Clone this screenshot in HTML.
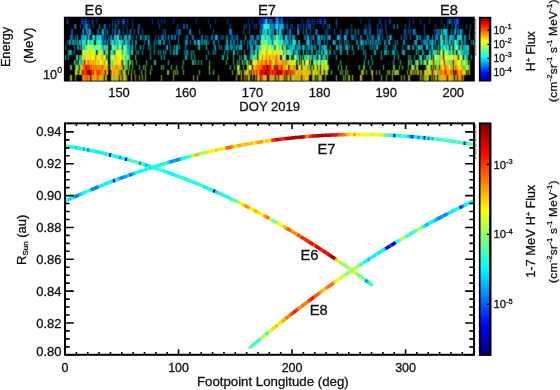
<!DOCTYPE html>
<html><head><meta charset="utf-8"><title>figure</title>
<style>html,body{margin:0;padding:0;background:#fff}svg{display:block}text{font-family:"Liberation Sans", sans-serif;fill:#111;stroke:#111;stroke-width:0.3px}</style>
</head><body><svg width="560" height="390" viewBox="0 0 560 390"><defs><linearGradient id="jet" x1="0" y1="0" x2="0" y2="1"><stop offset="0.0000" stop-color="#800000"/><stop offset="0.0625" stop-color="#bf0000"/><stop offset="0.1250" stop-color="#ff0000"/><stop offset="0.1875" stop-color="#ff4000"/><stop offset="0.2500" stop-color="#ff8000"/><stop offset="0.3125" stop-color="#ffbf00"/><stop offset="0.3750" stop-color="#ffff00"/><stop offset="0.4375" stop-color="#bfff40"/><stop offset="0.5000" stop-color="#80ff80"/><stop offset="0.5625" stop-color="#40ffbf"/><stop offset="0.6250" stop-color="#00ffff"/><stop offset="0.6875" stop-color="#00bfff"/><stop offset="0.7500" stop-color="#0080ff"/><stop offset="0.8125" stop-color="#0040ff"/><stop offset="0.8750" stop-color="#0000ff"/><stop offset="0.9375" stop-color="#0000bf"/><stop offset="1.0000" stop-color="#000080"/></linearGradient><linearGradient id="jet2" x1="0" y1="0" x2="0" y2="1"><stop offset="0.0000" stop-color="#a80000"/><stop offset="0.0625" stop-color="#e40000"/><stop offset="0.1250" stop-color="#ff2000"/><stop offset="0.1875" stop-color="#ff5b00"/><stop offset="0.2500" stop-color="#ff9600"/><stop offset="0.3125" stop-color="#ffd200"/><stop offset="0.3750" stop-color="#f1ff0e"/><stop offset="0.4375" stop-color="#b6ff49"/><stop offset="0.5000" stop-color="#7aff85"/><stop offset="0.5625" stop-color="#3fffc0"/><stop offset="0.6250" stop-color="#04fffb"/><stop offset="0.6875" stop-color="#00c8ff"/><stop offset="0.7500" stop-color="#008cff"/><stop offset="0.8125" stop-color="#0051ff"/><stop offset="0.8750" stop-color="#0016ff"/><stop offset="0.9375" stop-color="#0000d9"/><stop offset="1.0000" stop-color="#00009e"/></linearGradient></defs><rect width="560" height="390" fill="#fff"/>
<rect x="63.9" y="16.7" width="410.9" height="64.8" fill="#000"/>
<filter id="bl" x="60" y="12" width="420" height="74" filterUnits="userSpaceOnUse" color-interpolation-filters="sRGB"><feConvolveMatrix order="3 3" kernelMatrix="0.0200 0.0600 0.0200 0.1600 0.4800 0.1600 0.0200 0.0600 0.0200" divisor="1" edgeMode="none"/></filter>
<clipPath id="sc"><rect x="65.0" y="17.2" width="409.0" height="63.599999999999994"/></clipPath>
<g clip-path="url(#sc)"><g filter="url(#bl)">
<rect x="85" y="17" width="1" height="2" fill="#0000a6"/>
<rect x="97" y="17" width="2" height="2" fill="#0000a6"/>
<rect x="152" y="17" width="1" height="2" fill="#0000a6"/>
<rect x="174" y="17" width="1" height="2" fill="#0000a6"/>
<rect x="197" y="17" width="1" height="2" fill="#0000a6"/>
<rect x="210" y="17" width="1" height="2" fill="#0000a6"/>
<rect x="261" y="17" width="3" height="2" fill="#0024d9"/>
<rect x="264" y="17" width="1" height="2" fill="#0000a6"/>
<rect x="266" y="17" width="1" height="2" fill="#0024d9"/>
<rect x="268" y="17" width="1" height="2" fill="#0024d9"/>
<rect x="269" y="17" width="1" height="2" fill="#0000a6"/>
<rect x="271" y="17" width="1" height="2" fill="#0000a6"/>
<rect x="275" y="17" width="1" height="2" fill="#004ced"/>
<rect x="276" y="17" width="1" height="2" fill="#0095ff"/>
<rect x="277" y="17" width="1" height="2" fill="#0024d9"/>
<rect x="278" y="17" width="1" height="2" fill="#006eff"/>
<rect x="280" y="17" width="1" height="2" fill="#0000a6"/>
<rect x="281" y="17" width="1" height="2" fill="#004ced"/>
<rect x="282" y="17" width="2" height="2" fill="#0000a6"/>
<rect x="289" y="17" width="3" height="2" fill="#0000a6"/>
<rect x="293" y="17" width="2" height="2" fill="#0000a6"/>
<rect x="301" y="17" width="1" height="2" fill="#0000a6"/>
<rect x="308" y="17" width="1" height="2" fill="#0000a6"/>
<rect x="321" y="17" width="1" height="2" fill="#0000a6"/>
<rect x="324" y="17" width="1" height="2" fill="#0000a6"/>
<rect x="328" y="17" width="1" height="2" fill="#0000a6"/>
<rect x="366" y="17" width="1" height="2" fill="#0000a6"/>
<rect x="382" y="17" width="1" height="2" fill="#0000a6"/>
<rect x="386" y="17" width="1" height="2" fill="#0000a6"/>
<rect x="406" y="17" width="2" height="2" fill="#0000a6"/>
<rect x="413" y="17" width="1" height="2" fill="#0000a6"/>
<rect x="447" y="17" width="1" height="2" fill="#0000a6"/>
<rect x="453" y="17" width="1" height="2" fill="#0000a6"/>
<rect x="456" y="17" width="2" height="2" fill="#0000a6"/>
<rect x="461" y="17" width="1" height="2" fill="#0000a6"/>
<rect x="467" y="17" width="1" height="2" fill="#0000a6"/>
<rect x="472" y="17" width="1" height="2" fill="#0000a6"/>
<rect x="67" y="19" width="1" height="5" fill="#007ad9"/>
<rect x="81" y="19" width="3" height="5" fill="#0037b8"/>
<rect x="85" y="19" width="1" height="5" fill="#007ad9"/>
<rect x="86" y="19" width="1" height="5" fill="#0037b8"/>
<rect x="88" y="19" width="1" height="5" fill="#0037b8"/>
<rect x="92" y="19" width="1" height="5" fill="#007ad9"/>
<rect x="96" y="19" width="1" height="5" fill="#0037b8"/>
<rect x="112" y="19" width="1" height="5" fill="#0037b8"/>
<rect x="115" y="19" width="1" height="5" fill="#0037b8"/>
<rect x="118" y="19" width="1" height="5" fill="#007ad9"/>
<rect x="122" y="19" width="1" height="5" fill="#0037b8"/>
<rect x="123" y="19" width="1" height="5" fill="#007ad9"/>
<rect x="124" y="19" width="1" height="5" fill="#0037b8"/>
<rect x="127" y="19" width="1" height="5" fill="#0037b8"/>
<rect x="132" y="19" width="1" height="5" fill="#0037b8"/>
<rect x="152" y="19" width="1" height="5" fill="#0037b8"/>
<rect x="158" y="19" width="1" height="5" fill="#0037b8"/>
<rect x="161" y="19" width="1" height="5" fill="#0037b8"/>
<rect x="164" y="19" width="1" height="5" fill="#0037b8"/>
<rect x="173" y="19" width="1" height="5" fill="#0037b8"/>
<rect x="196" y="19" width="1" height="5" fill="#0037b8"/>
<rect x="208" y="19" width="1" height="5" fill="#0037b8"/>
<rect x="215" y="19" width="1" height="5" fill="#0037b8"/>
<rect x="227" y="19" width="1" height="5" fill="#0037b8"/>
<rect x="248" y="19" width="1" height="5" fill="#0037b8"/>
<rect x="252" y="19" width="1" height="5" fill="#0037b8"/>
<rect x="259" y="19" width="2" height="5" fill="#0037b8"/>
<rect x="262" y="19" width="3" height="5" fill="#0037b8"/>
<rect x="265" y="19" width="1" height="5" fill="#00abed"/>
<rect x="266" y="19" width="1" height="5" fill="#40ffbf"/>
<rect x="267" y="19" width="1" height="5" fill="#0037b8"/>
<rect x="269" y="19" width="1" height="5" fill="#007ad9"/>
<rect x="270" y="19" width="1" height="5" fill="#0037b8"/>
<rect x="271" y="19" width="1" height="5" fill="#007ad9"/>
<rect x="272" y="19" width="1" height="5" fill="#0037b8"/>
<rect x="275" y="19" width="1" height="5" fill="#0037b8"/>
<rect x="276" y="19" width="1" height="5" fill="#00abed"/>
<rect x="277" y="19" width="1" height="5" fill="#007ad9"/>
<rect x="278" y="19" width="1" height="5" fill="#00abed"/>
<rect x="280" y="19" width="1" height="5" fill="#0037b8"/>
<rect x="281" y="19" width="1" height="5" fill="#00abed"/>
<rect x="282" y="19" width="1" height="5" fill="#0037b8"/>
<rect x="287" y="19" width="1" height="5" fill="#0037b8"/>
<rect x="302" y="19" width="1" height="5" fill="#0037b8"/>
<rect x="307" y="19" width="2" height="5" fill="#0037b8"/>
<rect x="310" y="19" width="1" height="5" fill="#0037b8"/>
<rect x="312" y="19" width="1" height="5" fill="#0037b8"/>
<rect x="314" y="19" width="1" height="5" fill="#0037b8"/>
<rect x="317" y="19" width="1" height="5" fill="#0037b8"/>
<rect x="319" y="19" width="3" height="5" fill="#0037b8"/>
<rect x="324" y="19" width="1" height="5" fill="#007ad9"/>
<rect x="325" y="19" width="1" height="5" fill="#0037b8"/>
<rect x="336" y="19" width="1" height="5" fill="#007ad9"/>
<rect x="360" y="19" width="1" height="5" fill="#0037b8"/>
<rect x="369" y="19" width="1" height="5" fill="#0037b8"/>
<rect x="379" y="19" width="2" height="5" fill="#0037b8"/>
<rect x="385" y="19" width="1" height="5" fill="#0037b8"/>
<rect x="389" y="19" width="2" height="5" fill="#0037b8"/>
<rect x="409" y="19" width="1" height="5" fill="#0037b8"/>
<rect x="413" y="19" width="1" height="5" fill="#0037b8"/>
<rect x="420" y="19" width="1" height="5" fill="#0037b8"/>
<rect x="429" y="19" width="1" height="5" fill="#0037b8"/>
<rect x="441" y="19" width="1" height="5" fill="#0037b8"/>
<rect x="447" y="19" width="1" height="5" fill="#0037b8"/>
<rect x="449" y="19" width="1" height="5" fill="#00d4ff"/>
<rect x="451" y="19" width="1" height="5" fill="#007ad9"/>
<rect x="454" y="19" width="3" height="5" fill="#0037b8"/>
<rect x="457" y="19" width="1" height="5" fill="#007ad9"/>
<rect x="458" y="19" width="1" height="5" fill="#0037b8"/>
<rect x="74" y="24" width="1" height="5" fill="#0051b8"/>
<rect x="75" y="24" width="1" height="5" fill="#0099d9"/>
<rect x="80" y="24" width="1" height="5" fill="#0051b8"/>
<rect x="83" y="24" width="1" height="5" fill="#0051b8"/>
<rect x="85" y="24" width="1" height="5" fill="#00cced"/>
<rect x="86" y="24" width="1" height="5" fill="#0051b8"/>
<rect x="87" y="24" width="1" height="5" fill="#0099d9"/>
<rect x="89" y="24" width="1" height="5" fill="#0051b8"/>
<rect x="93" y="24" width="1" height="5" fill="#0051b8"/>
<rect x="99" y="24" width="1" height="5" fill="#0099d9"/>
<rect x="104" y="24" width="1" height="5" fill="#0099d9"/>
<rect x="105" y="24" width="1" height="5" fill="#0051b8"/>
<rect x="109" y="24" width="1" height="5" fill="#0051b8"/>
<rect x="112" y="24" width="1" height="5" fill="#0051b8"/>
<rect x="115" y="24" width="1" height="5" fill="#0099d9"/>
<rect x="117" y="24" width="1" height="5" fill="#0051b8"/>
<rect x="123" y="24" width="1" height="5" fill="#0051b8"/>
<rect x="126" y="24" width="1" height="5" fill="#0051b8"/>
<rect x="132" y="24" width="1" height="5" fill="#0051b8"/>
<rect x="138" y="24" width="2" height="5" fill="#0051b8"/>
<rect x="159" y="24" width="1" height="5" fill="#0051b8"/>
<rect x="177" y="24" width="1" height="5" fill="#0051b8"/>
<rect x="183" y="24" width="2" height="5" fill="#0051b8"/>
<rect x="186" y="24" width="2" height="5" fill="#0051b8"/>
<rect x="210" y="24" width="1" height="5" fill="#0051b8"/>
<rect x="230" y="24" width="1" height="5" fill="#0051b8"/>
<rect x="244" y="24" width="1" height="5" fill="#0051b8"/>
<rect x="246" y="24" width="1" height="5" fill="#0051b8"/>
<rect x="249" y="24" width="1" height="5" fill="#0051b8"/>
<rect x="254" y="24" width="1" height="5" fill="#0051b8"/>
<rect x="256" y="24" width="1" height="5" fill="#0051b8"/>
<rect x="260" y="24" width="3" height="5" fill="#0051b8"/>
<rect x="263" y="24" width="1" height="5" fill="#00cced"/>
<rect x="264" y="24" width="2" height="5" fill="#0efff1"/>
<rect x="266" y="24" width="1" height="5" fill="#00f7ff"/>
<rect x="267" y="24" width="1" height="5" fill="#0efff1"/>
<rect x="268" y="24" width="1" height="5" fill="#00f7ff"/>
<rect x="269" y="24" width="1" height="5" fill="#2fffd0"/>
<rect x="271" y="24" width="1" height="5" fill="#00cced"/>
<rect x="272" y="24" width="1" height="5" fill="#0099d9"/>
<rect x="273" y="24" width="2" height="5" fill="#0051b8"/>
<rect x="275" y="24" width="2" height="5" fill="#00cced"/>
<rect x="277" y="24" width="1" height="5" fill="#2fffd0"/>
<rect x="278" y="24" width="1" height="5" fill="#0051b8"/>
<rect x="279" y="24" width="1" height="5" fill="#0099d9"/>
<rect x="280" y="24" width="1" height="5" fill="#00cced"/>
<rect x="281" y="24" width="1" height="5" fill="#0099d9"/>
<rect x="282" y="24" width="1" height="5" fill="#00cced"/>
<rect x="283" y="24" width="1" height="5" fill="#0099d9"/>
<rect x="286" y="24" width="2" height="5" fill="#0051b8"/>
<rect x="290" y="24" width="1" height="5" fill="#0051b8"/>
<rect x="292" y="24" width="1" height="5" fill="#0051b8"/>
<rect x="297" y="24" width="2" height="5" fill="#0051b8"/>
<rect x="300" y="24" width="1" height="5" fill="#0051b8"/>
<rect x="303" y="24" width="1" height="5" fill="#0051b8"/>
<rect x="306" y="24" width="1" height="5" fill="#0051b8"/>
<rect x="308" y="24" width="3" height="5" fill="#0051b8"/>
<rect x="313" y="24" width="1" height="5" fill="#0051b8"/>
<rect x="323" y="24" width="1" height="5" fill="#0051b8"/>
<rect x="327" y="24" width="1" height="5" fill="#0051b8"/>
<rect x="329" y="24" width="1" height="5" fill="#0099d9"/>
<rect x="336" y="24" width="1" height="5" fill="#0051b8"/>
<rect x="351" y="24" width="1" height="5" fill="#0051b8"/>
<rect x="365" y="24" width="1" height="5" fill="#0051b8"/>
<rect x="368" y="24" width="1" height="5" fill="#0051b8"/>
<rect x="370" y="24" width="1" height="5" fill="#0051b8"/>
<rect x="377" y="24" width="1" height="5" fill="#0051b8"/>
<rect x="381" y="24" width="1" height="5" fill="#0051b8"/>
<rect x="385" y="24" width="1" height="5" fill="#0051b8"/>
<rect x="393" y="24" width="2" height="5" fill="#0051b8"/>
<rect x="397" y="24" width="1" height="5" fill="#0099d9"/>
<rect x="405" y="24" width="1" height="5" fill="#0051b8"/>
<rect x="409" y="24" width="1" height="5" fill="#0051b8"/>
<rect x="424" y="24" width="1" height="5" fill="#0051b8"/>
<rect x="435" y="24" width="1" height="5" fill="#0051b8"/>
<rect x="444" y="24" width="1" height="5" fill="#0051b8"/>
<rect x="447" y="24" width="1" height="5" fill="#0051b8"/>
<rect x="452" y="24" width="1" height="5" fill="#0051b8"/>
<rect x="455" y="24" width="1" height="5" fill="#0099d9"/>
<rect x="456" y="24" width="1" height="5" fill="#0051b8"/>
<rect x="458" y="24" width="1" height="5" fill="#0051b8"/>
<rect x="466" y="24" width="1" height="5" fill="#0051b8"/>
<rect x="470" y="24" width="1" height="5" fill="#0051b8"/>
<rect x="71" y="29" width="2" height="6" fill="#0063b8"/>
<rect x="82" y="29" width="1" height="6" fill="#0063b8"/>
<rect x="83" y="29" width="1" height="6" fill="#00aed9"/>
<rect x="86" y="29" width="1" height="6" fill="#00aed9"/>
<rect x="87" y="29" width="2" height="6" fill="#0063b8"/>
<rect x="89" y="29" width="2" height="6" fill="#00aed9"/>
<rect x="97" y="29" width="2" height="6" fill="#0063b8"/>
<rect x="102" y="29" width="1" height="6" fill="#00e4ed"/>
<rect x="103" y="29" width="1" height="6" fill="#00aed9"/>
<rect x="105" y="29" width="1" height="6" fill="#0063b8"/>
<rect x="107" y="29" width="1" height="6" fill="#00aed9"/>
<rect x="112" y="29" width="1" height="6" fill="#0063b8"/>
<rect x="114" y="29" width="2" height="6" fill="#0063b8"/>
<rect x="118" y="29" width="1" height="6" fill="#0063b8"/>
<rect x="119" y="29" width="1" height="6" fill="#00aed9"/>
<rect x="123" y="29" width="1" height="6" fill="#0063b8"/>
<rect x="127" y="29" width="1" height="6" fill="#0063b8"/>
<rect x="130" y="29" width="1" height="6" fill="#00aed9"/>
<rect x="134" y="29" width="1" height="6" fill="#0063b8"/>
<rect x="138" y="29" width="1" height="6" fill="#00aed9"/>
<rect x="142" y="29" width="1" height="6" fill="#0063b8"/>
<rect x="163" y="29" width="1" height="6" fill="#0063b8"/>
<rect x="165" y="29" width="1" height="6" fill="#0063b8"/>
<rect x="176" y="29" width="1" height="6" fill="#0063b8"/>
<rect x="178" y="29" width="3" height="6" fill="#0063b8"/>
<rect x="189" y="29" width="1" height="6" fill="#0063b8"/>
<rect x="190" y="29" width="1" height="6" fill="#00aed9"/>
<rect x="199" y="29" width="1" height="6" fill="#0063b8"/>
<rect x="213" y="29" width="1" height="6" fill="#0063b8"/>
<rect x="229" y="29" width="1" height="6" fill="#0063b8"/>
<rect x="230" y="29" width="1" height="6" fill="#00aed9"/>
<rect x="231" y="29" width="1" height="6" fill="#0063b8"/>
<rect x="243" y="29" width="1" height="6" fill="#0063b8"/>
<rect x="249" y="29" width="1" height="6" fill="#0063b8"/>
<rect x="260" y="29" width="1" height="6" fill="#00aed9"/>
<rect x="262" y="29" width="1" height="6" fill="#00e4ed"/>
<rect x="263" y="29" width="2" height="6" fill="#00aed9"/>
<rect x="265" y="29" width="1" height="6" fill="#00e4ed"/>
<rect x="266" y="29" width="1" height="6" fill="#61ff9e"/>
<rect x="268" y="29" width="1" height="6" fill="#0063b8"/>
<rect x="269" y="29" width="1" height="6" fill="#28ffd7"/>
<rect x="270" y="29" width="1" height="6" fill="#0063b8"/>
<rect x="271" y="29" width="1" height="6" fill="#00aed9"/>
<rect x="272" y="29" width="1" height="6" fill="#0063b8"/>
<rect x="273" y="29" width="1" height="6" fill="#00aed9"/>
<rect x="276" y="29" width="1" height="6" fill="#0063b8"/>
<rect x="277" y="29" width="1" height="6" fill="#61ff9e"/>
<rect x="279" y="29" width="1" height="6" fill="#12ffed"/>
<rect x="280" y="29" width="2" height="6" fill="#00aed9"/>
<rect x="283" y="29" width="1" height="6" fill="#0063b8"/>
<rect x="287" y="29" width="1" height="6" fill="#0063b8"/>
<rect x="289" y="29" width="1" height="6" fill="#0063b8"/>
<rect x="290" y="29" width="1" height="6" fill="#00aed9"/>
<rect x="297" y="29" width="1" height="6" fill="#0063b8"/>
<rect x="298" y="29" width="1" height="6" fill="#00e4ed"/>
<rect x="303" y="29" width="1" height="6" fill="#0063b8"/>
<rect x="306" y="29" width="1" height="6" fill="#00aed9"/>
<rect x="310" y="29" width="1" height="6" fill="#0063b8"/>
<rect x="315" y="29" width="3" height="6" fill="#0063b8"/>
<rect x="325" y="29" width="1" height="6" fill="#0063b8"/>
<rect x="327" y="29" width="1" height="6" fill="#0063b8"/>
<rect x="334" y="29" width="1" height="6" fill="#0063b8"/>
<rect x="340" y="29" width="1" height="6" fill="#0063b8"/>
<rect x="345" y="29" width="1" height="6" fill="#0063b8"/>
<rect x="347" y="29" width="1" height="6" fill="#00aed9"/>
<rect x="351" y="29" width="1" height="6" fill="#0063b8"/>
<rect x="355" y="29" width="1" height="6" fill="#00aed9"/>
<rect x="358" y="29" width="1" height="6" fill="#00aed9"/>
<rect x="364" y="29" width="3" height="6" fill="#0063b8"/>
<rect x="369" y="29" width="2" height="6" fill="#0063b8"/>
<rect x="377" y="29" width="1" height="6" fill="#0063b8"/>
<rect x="379" y="29" width="2" height="6" fill="#0063b8"/>
<rect x="382" y="29" width="1" height="6" fill="#0063b8"/>
<rect x="386" y="29" width="1" height="6" fill="#0063b8"/>
<rect x="404" y="29" width="2" height="6" fill="#0063b8"/>
<rect x="408" y="29" width="1" height="6" fill="#0063b8"/>
<rect x="410" y="29" width="1" height="6" fill="#0063b8"/>
<rect x="413" y="29" width="1" height="6" fill="#00aed9"/>
<rect x="414" y="29" width="2" height="6" fill="#0063b8"/>
<rect x="424" y="29" width="1" height="6" fill="#0063b8"/>
<rect x="434" y="29" width="1" height="6" fill="#0063b8"/>
<rect x="436" y="29" width="4" height="6" fill="#0063b8"/>
<rect x="441" y="29" width="1" height="6" fill="#39ffc6"/>
<rect x="443" y="29" width="1" height="6" fill="#00e4ed"/>
<rect x="444" y="29" width="1" height="6" fill="#00aed9"/>
<rect x="445" y="29" width="1" height="6" fill="#00e4ed"/>
<rect x="446" y="29" width="1" height="6" fill="#00aed9"/>
<rect x="447" y="29" width="1" height="6" fill="#0063b8"/>
<rect x="451" y="29" width="1" height="6" fill="#00aed9"/>
<rect x="454" y="29" width="2" height="6" fill="#00aed9"/>
<rect x="457" y="29" width="2" height="6" fill="#0063b8"/>
<rect x="460" y="29" width="1" height="6" fill="#00e4ed"/>
<rect x="461" y="29" width="2" height="6" fill="#0063b8"/>
<rect x="469" y="29" width="1" height="6" fill="#0063b8"/>
<rect x="70" y="35" width="3" height="5" fill="#0075b8"/>
<rect x="75" y="35" width="1" height="5" fill="#0075b8"/>
<rect x="77" y="35" width="1" height="5" fill="#00c4d9"/>
<rect x="81" y="35" width="1" height="5" fill="#00c4d9"/>
<rect x="82" y="35" width="1" height="5" fill="#0075b8"/>
<rect x="83" y="35" width="1" height="5" fill="#00c4d9"/>
<rect x="84" y="35" width="1" height="5" fill="#0075b8"/>
<rect x="85" y="35" width="1" height="5" fill="#2bffd4"/>
<rect x="86" y="35" width="1" height="5" fill="#0075b8"/>
<rect x="88" y="35" width="1" height="5" fill="#2bffd4"/>
<rect x="89" y="35" width="1" height="5" fill="#0075b8"/>
<rect x="92" y="35" width="2" height="5" fill="#00c4d9"/>
<rect x="94" y="35" width="1" height="5" fill="#2bffd4"/>
<rect x="96" y="35" width="1" height="5" fill="#00c4d9"/>
<rect x="97" y="35" width="1" height="5" fill="#2bffd4"/>
<rect x="98" y="35" width="1" height="5" fill="#0075b8"/>
<rect x="99" y="35" width="2" height="5" fill="#0eeddf"/>
<rect x="101" y="35" width="3" height="5" fill="#0075b8"/>
<rect x="105" y="35" width="1" height="5" fill="#0075b8"/>
<rect x="108" y="35" width="1" height="5" fill="#0075b8"/>
<rect x="110" y="35" width="1" height="5" fill="#0075b8"/>
<rect x="111" y="35" width="1" height="5" fill="#00c4d9"/>
<rect x="114" y="35" width="1" height="5" fill="#0eeddf"/>
<rect x="115" y="35" width="1" height="5" fill="#00c4d9"/>
<rect x="116" y="35" width="1" height="5" fill="#0075b8"/>
<rect x="117" y="35" width="1" height="5" fill="#41ffbe"/>
<rect x="118" y="35" width="1" height="5" fill="#2bffd4"/>
<rect x="120" y="35" width="2" height="5" fill="#0075b8"/>
<rect x="124" y="35" width="1" height="5" fill="#0eeddf"/>
<rect x="125" y="35" width="1" height="5" fill="#0075b8"/>
<rect x="126" y="35" width="1" height="5" fill="#0eeddf"/>
<rect x="128" y="35" width="1" height="5" fill="#0075b8"/>
<rect x="129" y="35" width="1" height="5" fill="#2bffd4"/>
<rect x="130" y="35" width="1" height="5" fill="#0075b8"/>
<rect x="132" y="35" width="1" height="5" fill="#0075b8"/>
<rect x="136" y="35" width="1" height="5" fill="#0075b8"/>
<rect x="140" y="35" width="1" height="5" fill="#00c4d9"/>
<rect x="141" y="35" width="1" height="5" fill="#0075b8"/>
<rect x="143" y="35" width="1" height="5" fill="#0075b8"/>
<rect x="145" y="35" width="1" height="5" fill="#00c4d9"/>
<rect x="146" y="35" width="1" height="5" fill="#0075b8"/>
<rect x="148" y="35" width="1" height="5" fill="#00c4d9"/>
<rect x="155" y="35" width="1" height="5" fill="#0075b8"/>
<rect x="158" y="35" width="1" height="5" fill="#0075b8"/>
<rect x="161" y="35" width="3" height="5" fill="#0075b8"/>
<rect x="165" y="35" width="1" height="5" fill="#0075b8"/>
<rect x="168" y="35" width="1" height="5" fill="#00c4d9"/>
<rect x="171" y="35" width="2" height="5" fill="#0075b8"/>
<rect x="174" y="35" width="2" height="5" fill="#0075b8"/>
<rect x="178" y="35" width="1" height="5" fill="#0075b8"/>
<rect x="186" y="35" width="2" height="5" fill="#0075b8"/>
<rect x="192" y="35" width="2" height="5" fill="#0075b8"/>
<rect x="201" y="35" width="2" height="5" fill="#0075b8"/>
<rect x="205" y="35" width="1" height="5" fill="#0075b8"/>
<rect x="207" y="35" width="1" height="5" fill="#0075b8"/>
<rect x="211" y="35" width="2" height="5" fill="#0075b8"/>
<rect x="215" y="35" width="2" height="5" fill="#00c4d9"/>
<rect x="217" y="35" width="1" height="5" fill="#0075b8"/>
<rect x="221" y="35" width="1" height="5" fill="#0075b8"/>
<rect x="223" y="35" width="1" height="5" fill="#0075b8"/>
<rect x="226" y="35" width="2" height="5" fill="#0075b8"/>
<rect x="231" y="35" width="2" height="5" fill="#0075b8"/>
<rect x="234" y="35" width="1" height="5" fill="#0075b8"/>
<rect x="236" y="35" width="2" height="5" fill="#0075b8"/>
<rect x="245" y="35" width="1" height="5" fill="#00c4d9"/>
<rect x="250" y="35" width="4" height="5" fill="#0075b8"/>
<rect x="256" y="35" width="4" height="5" fill="#0075b8"/>
<rect x="261" y="35" width="1" height="5" fill="#9eff61"/>
<rect x="262" y="35" width="1" height="5" fill="#0eeddf"/>
<rect x="263" y="35" width="1" height="5" fill="#41ffbe"/>
<rect x="264" y="35" width="1" height="5" fill="#62ff9d"/>
<rect x="265" y="35" width="1" height="5" fill="#0075b8"/>
<rect x="266" y="35" width="1" height="5" fill="#53ffac"/>
<rect x="267" y="35" width="2" height="5" fill="#0eeddf"/>
<rect x="269" y="35" width="1" height="5" fill="#00c4d9"/>
<rect x="270" y="35" width="1" height="5" fill="#41ffbe"/>
<rect x="272" y="35" width="1" height="5" fill="#00c4d9"/>
<rect x="273" y="35" width="1" height="5" fill="#0075b8"/>
<rect x="274" y="35" width="1" height="5" fill="#6fff90"/>
<rect x="275" y="35" width="1" height="5" fill="#0075b8"/>
<rect x="276" y="35" width="1" height="5" fill="#6fff90"/>
<rect x="277" y="35" width="1" height="5" fill="#96ff69"/>
<rect x="278" y="35" width="1" height="5" fill="#00c4d9"/>
<rect x="279" y="35" width="1" height="5" fill="#0eeddf"/>
<rect x="280" y="35" width="1" height="5" fill="#0075b8"/>
<rect x="281" y="35" width="1" height="5" fill="#41ffbe"/>
<rect x="282" y="35" width="1" height="5" fill="#0075b8"/>
<rect x="285" y="35" width="1" height="5" fill="#2bffd4"/>
<rect x="286" y="35" width="1" height="5" fill="#00c4d9"/>
<rect x="287" y="35" width="1" height="5" fill="#0075b8"/>
<rect x="289" y="35" width="1" height="5" fill="#00c4d9"/>
<rect x="290" y="35" width="1" height="5" fill="#0075b8"/>
<rect x="292" y="35" width="1" height="5" fill="#00c4d9"/>
<rect x="293" y="35" width="1" height="5" fill="#0075b8"/>
<rect x="294" y="35" width="1" height="5" fill="#00c4d9"/>
<rect x="304" y="35" width="2" height="5" fill="#0075b8"/>
<rect x="307" y="35" width="2" height="5" fill="#00c4d9"/>
<rect x="311" y="35" width="1" height="5" fill="#0075b8"/>
<rect x="313" y="35" width="1" height="5" fill="#2bffd4"/>
<rect x="317" y="35" width="1" height="5" fill="#0075b8"/>
<rect x="318" y="35" width="2" height="5" fill="#00c4d9"/>
<rect x="321" y="35" width="1" height="5" fill="#00c4d9"/>
<rect x="322" y="35" width="1" height="5" fill="#0075b8"/>
<rect x="324" y="35" width="1" height="5" fill="#00c4d9"/>
<rect x="327" y="35" width="2" height="5" fill="#0075b8"/>
<rect x="329" y="35" width="1" height="5" fill="#00c4d9"/>
<rect x="330" y="35" width="1" height="5" fill="#0075b8"/>
<rect x="337" y="35" width="2" height="5" fill="#00c4d9"/>
<rect x="339" y="35" width="2" height="5" fill="#0075b8"/>
<rect x="344" y="35" width="2" height="5" fill="#00c4d9"/>
<rect x="346" y="35" width="1" height="5" fill="#0075b8"/>
<rect x="351" y="35" width="3" height="5" fill="#0075b8"/>
<rect x="355" y="35" width="1" height="5" fill="#0075b8"/>
<rect x="360" y="35" width="2" height="5" fill="#0075b8"/>
<rect x="367" y="35" width="1" height="5" fill="#00c4d9"/>
<rect x="369" y="35" width="1" height="5" fill="#0075b8"/>
<rect x="371" y="35" width="3" height="5" fill="#0075b8"/>
<rect x="377" y="35" width="2" height="5" fill="#0075b8"/>
<rect x="379" y="35" width="1" height="5" fill="#00c4d9"/>
<rect x="382" y="35" width="1" height="5" fill="#0075b8"/>
<rect x="387" y="35" width="1" height="5" fill="#0075b8"/>
<rect x="389" y="35" width="1" height="5" fill="#0075b8"/>
<rect x="390" y="35" width="1" height="5" fill="#00c4d9"/>
<rect x="391" y="35" width="1" height="5" fill="#0075b8"/>
<rect x="401" y="35" width="1" height="5" fill="#0075b8"/>
<rect x="404" y="35" width="1" height="5" fill="#0075b8"/>
<rect x="406" y="35" width="1" height="5" fill="#0075b8"/>
<rect x="410" y="35" width="1" height="5" fill="#0075b8"/>
<rect x="416" y="35" width="1" height="5" fill="#0075b8"/>
<rect x="417" y="35" width="1" height="5" fill="#0eeddf"/>
<rect x="419" y="35" width="2" height="5" fill="#0075b8"/>
<rect x="424" y="35" width="1" height="5" fill="#0075b8"/>
<rect x="426" y="35" width="2" height="5" fill="#0075b8"/>
<rect x="428" y="35" width="1" height="5" fill="#00c4d9"/>
<rect x="432" y="35" width="1" height="5" fill="#00c4d9"/>
<rect x="435" y="35" width="2" height="5" fill="#0075b8"/>
<rect x="437" y="35" width="1" height="5" fill="#00c4d9"/>
<rect x="440" y="35" width="1" height="5" fill="#0eeddf"/>
<rect x="441" y="35" width="1" height="5" fill="#62ff9d"/>
<rect x="442" y="35" width="2" height="5" fill="#0075b8"/>
<rect x="445" y="35" width="1" height="5" fill="#6fff90"/>
<rect x="446" y="35" width="1" height="5" fill="#0075b8"/>
<rect x="447" y="35" width="1" height="5" fill="#00c4d9"/>
<rect x="449" y="35" width="1" height="5" fill="#0075b8"/>
<rect x="450" y="35" width="1" height="5" fill="#2bffd4"/>
<rect x="451" y="35" width="1" height="5" fill="#0075b8"/>
<rect x="452" y="35" width="1" height="5" fill="#00c4d9"/>
<rect x="453" y="35" width="2" height="5" fill="#0075b8"/>
<rect x="457" y="35" width="2" height="5" fill="#0eeddf"/>
<rect x="459" y="35" width="2" height="5" fill="#00c4d9"/>
<rect x="461" y="35" width="1" height="5" fill="#41ffbe"/>
<rect x="464" y="35" width="1" height="5" fill="#00c4d9"/>
<rect x="465" y="35" width="1" height="5" fill="#0075b8"/>
<rect x="469" y="35" width="1" height="5" fill="#00c4d9"/>
<rect x="67" y="40" width="1" height="5" fill="#0088b8"/>
<rect x="69" y="40" width="1" height="5" fill="#01d9d8"/>
<rect x="70" y="40" width="1" height="5" fill="#0088b8"/>
<rect x="72" y="40" width="1" height="5" fill="#0088b8"/>
<rect x="73" y="40" width="1" height="5" fill="#01d9d8"/>
<rect x="75" y="40" width="1" height="5" fill="#01d9d8"/>
<rect x="77" y="40" width="1" height="5" fill="#26edc7"/>
<rect x="79" y="40" width="1" height="5" fill="#26edc7"/>
<rect x="80" y="40" width="2" height="5" fill="#0088b8"/>
<rect x="82" y="40" width="1" height="5" fill="#01d9d8"/>
<rect x="83" y="40" width="1" height="5" fill="#26edc7"/>
<rect x="84" y="40" width="1" height="5" fill="#01d9d8"/>
<rect x="85" y="40" width="1" height="5" fill="#5bffa4"/>
<rect x="87" y="40" width="1" height="5" fill="#45ffba"/>
<rect x="88" y="40" width="1" height="5" fill="#6cff93"/>
<rect x="89" y="40" width="2" height="5" fill="#01d9d8"/>
<rect x="91" y="40" width="1" height="5" fill="#26edc7"/>
<rect x="92" y="40" width="1" height="5" fill="#45ffba"/>
<rect x="93" y="40" width="1" height="5" fill="#26edc7"/>
<rect x="96" y="40" width="1" height="5" fill="#6cff93"/>
<rect x="97" y="40" width="1" height="5" fill="#26edc7"/>
<rect x="98" y="40" width="1" height="5" fill="#01d9d8"/>
<rect x="99" y="40" width="1" height="5" fill="#88ff77"/>
<rect x="100" y="40" width="1" height="5" fill="#26edc7"/>
<rect x="101" y="40" width="1" height="5" fill="#01d9d8"/>
<rect x="102" y="40" width="1" height="5" fill="#0088b8"/>
<rect x="104" y="40" width="2" height="5" fill="#0088b8"/>
<rect x="107" y="40" width="1" height="5" fill="#01d9d8"/>
<rect x="110" y="40" width="1" height="5" fill="#0088b8"/>
<rect x="111" y="40" width="2" height="5" fill="#01d9d8"/>
<rect x="113" y="40" width="1" height="5" fill="#26edc7"/>
<rect x="114" y="40" width="2" height="5" fill="#0088b8"/>
<rect x="116" y="40" width="1" height="5" fill="#6cff93"/>
<rect x="117" y="40" width="1" height="5" fill="#0088b8"/>
<rect x="118" y="40" width="1" height="5" fill="#26edc7"/>
<rect x="119" y="40" width="1" height="5" fill="#5bffa4"/>
<rect x="120" y="40" width="1" height="5" fill="#01d9d8"/>
<rect x="121" y="40" width="1" height="5" fill="#26edc7"/>
<rect x="122" y="40" width="1" height="5" fill="#0088b8"/>
<rect x="123" y="40" width="1" height="5" fill="#01d9d8"/>
<rect x="125" y="40" width="1" height="5" fill="#26edc7"/>
<rect x="126" y="40" width="1" height="5" fill="#01d9d8"/>
<rect x="127" y="40" width="3" height="5" fill="#0088b8"/>
<rect x="132" y="40" width="1" height="5" fill="#01d9d8"/>
<rect x="135" y="40" width="2" height="5" fill="#0088b8"/>
<rect x="144" y="40" width="1" height="5" fill="#0088b8"/>
<rect x="148" y="40" width="1" height="5" fill="#01d9d8"/>
<rect x="149" y="40" width="1" height="5" fill="#0088b8"/>
<rect x="154" y="40" width="1" height="5" fill="#0088b8"/>
<rect x="156" y="40" width="1" height="5" fill="#0088b8"/>
<rect x="158" y="40" width="2" height="5" fill="#0088b8"/>
<rect x="160" y="40" width="1" height="5" fill="#01d9d8"/>
<rect x="163" y="40" width="2" height="5" fill="#0088b8"/>
<rect x="169" y="40" width="1" height="5" fill="#0088b8"/>
<rect x="178" y="40" width="1" height="5" fill="#0088b8"/>
<rect x="185" y="40" width="3" height="5" fill="#0088b8"/>
<rect x="190" y="40" width="1" height="5" fill="#0088b8"/>
<rect x="194" y="40" width="1" height="5" fill="#01d9d8"/>
<rect x="195" y="40" width="1" height="5" fill="#0088b8"/>
<rect x="197" y="40" width="1" height="5" fill="#0088b8"/>
<rect x="198" y="40" width="2" height="5" fill="#01d9d8"/>
<rect x="201" y="40" width="2" height="5" fill="#0088b8"/>
<rect x="204" y="40" width="1" height="5" fill="#26edc7"/>
<rect x="206" y="40" width="1" height="5" fill="#26edc7"/>
<rect x="208" y="40" width="1" height="5" fill="#0088b8"/>
<rect x="213" y="40" width="2" height="5" fill="#0088b8"/>
<rect x="218" y="40" width="1" height="5" fill="#0088b8"/>
<rect x="226" y="40" width="1" height="5" fill="#0088b8"/>
<rect x="227" y="40" width="1" height="5" fill="#01d9d8"/>
<rect x="230" y="40" width="2" height="5" fill="#0088b8"/>
<rect x="233" y="40" width="2" height="5" fill="#0088b8"/>
<rect x="237" y="40" width="1" height="5" fill="#0088b8"/>
<rect x="240" y="40" width="2" height="5" fill="#0088b8"/>
<rect x="244" y="40" width="1" height="5" fill="#0088b8"/>
<rect x="247" y="40" width="1" height="5" fill="#0088b8"/>
<rect x="249" y="40" width="3" height="5" fill="#0088b8"/>
<rect x="253" y="40" width="1" height="5" fill="#01d9d8"/>
<rect x="255" y="40" width="1" height="5" fill="#01d9d8"/>
<rect x="256" y="40" width="1" height="5" fill="#0088b8"/>
<rect x="260" y="40" width="1" height="5" fill="#0088b8"/>
<rect x="261" y="40" width="2" height="5" fill="#88ff77"/>
<rect x="263" y="40" width="1" height="5" fill="#26edc7"/>
<rect x="264" y="40" width="2" height="5" fill="#88ff77"/>
<rect x="266" y="40" width="1" height="5" fill="#b0ff4f"/>
<rect x="267" y="40" width="1" height="5" fill="#45ffba"/>
<rect x="268" y="40" width="2" height="5" fill="#01d9d8"/>
<rect x="270" y="40" width="1" height="5" fill="#45ffba"/>
<rect x="271" y="40" width="1" height="5" fill="#26edc7"/>
<rect x="273" y="40" width="1" height="5" fill="#26edc7"/>
<rect x="274" y="40" width="1" height="5" fill="#45ffba"/>
<rect x="275" y="40" width="2" height="5" fill="#88ff77"/>
<rect x="277" y="40" width="1" height="5" fill="#5bffa4"/>
<rect x="278" y="40" width="1" height="5" fill="#7bff84"/>
<rect x="279" y="40" width="1" height="5" fill="#01d9d8"/>
<rect x="280" y="40" width="2" height="5" fill="#26edc7"/>
<rect x="282" y="40" width="1" height="5" fill="#5bffa4"/>
<rect x="283" y="40" width="2" height="5" fill="#0088b8"/>
<rect x="285" y="40" width="1" height="5" fill="#01d9d8"/>
<rect x="286" y="40" width="1" height="5" fill="#0088b8"/>
<rect x="287" y="40" width="1" height="5" fill="#01d9d8"/>
<rect x="288" y="40" width="1" height="5" fill="#0088b8"/>
<rect x="290" y="40" width="1" height="5" fill="#01d9d8"/>
<rect x="292" y="40" width="1" height="5" fill="#01d9d8"/>
<rect x="293" y="40" width="3" height="5" fill="#26edc7"/>
<rect x="298" y="40" width="1" height="5" fill="#0088b8"/>
<rect x="299" y="40" width="1" height="5" fill="#01d9d8"/>
<rect x="306" y="40" width="1" height="5" fill="#0088b8"/>
<rect x="307" y="40" width="2" height="5" fill="#01d9d8"/>
<rect x="309" y="40" width="1" height="5" fill="#0088b8"/>
<rect x="311" y="40" width="1" height="5" fill="#0088b8"/>
<rect x="314" y="40" width="1" height="5" fill="#0088b8"/>
<rect x="317" y="40" width="4" height="5" fill="#0088b8"/>
<rect x="324" y="40" width="1" height="5" fill="#0088b8"/>
<rect x="327" y="40" width="1" height="5" fill="#0088b8"/>
<rect x="333" y="40" width="1" height="5" fill="#26edc7"/>
<rect x="334" y="40" width="2" height="5" fill="#0088b8"/>
<rect x="339" y="40" width="1" height="5" fill="#0088b8"/>
<rect x="341" y="40" width="1" height="5" fill="#0088b8"/>
<rect x="344" y="40" width="1" height="5" fill="#0088b8"/>
<rect x="346" y="40" width="1" height="5" fill="#0088b8"/>
<rect x="348" y="40" width="1" height="5" fill="#0088b8"/>
<rect x="356" y="40" width="2" height="5" fill="#0088b8"/>
<rect x="360" y="40" width="1" height="5" fill="#0088b8"/>
<rect x="361" y="40" width="1" height="5" fill="#01d9d8"/>
<rect x="362" y="40" width="2" height="5" fill="#0088b8"/>
<rect x="365" y="40" width="2" height="5" fill="#0088b8"/>
<rect x="368" y="40" width="1" height="5" fill="#0088b8"/>
<rect x="370" y="40" width="1" height="5" fill="#01d9d8"/>
<rect x="372" y="40" width="2" height="5" fill="#0088b8"/>
<rect x="375" y="40" width="2" height="5" fill="#0088b8"/>
<rect x="378" y="40" width="1" height="5" fill="#01d9d8"/>
<rect x="380" y="40" width="1" height="5" fill="#0088b8"/>
<rect x="384" y="40" width="2" height="5" fill="#0088b8"/>
<rect x="388" y="40" width="1" height="5" fill="#0088b8"/>
<rect x="389" y="40" width="1" height="5" fill="#01d9d8"/>
<rect x="395" y="40" width="1" height="5" fill="#0088b8"/>
<rect x="397" y="40" width="1" height="5" fill="#0088b8"/>
<rect x="403" y="40" width="2" height="5" fill="#0088b8"/>
<rect x="414" y="40" width="2" height="5" fill="#0088b8"/>
<rect x="416" y="40" width="1" height="5" fill="#01d9d8"/>
<rect x="421" y="40" width="1" height="5" fill="#0088b8"/>
<rect x="423" y="40" width="5" height="5" fill="#0088b8"/>
<rect x="429" y="40" width="3" height="5" fill="#0088b8"/>
<rect x="432" y="40" width="1" height="5" fill="#01d9d8"/>
<rect x="433" y="40" width="1" height="5" fill="#0088b8"/>
<rect x="435" y="40" width="1" height="5" fill="#01d9d8"/>
<rect x="438" y="40" width="1" height="5" fill="#0088b8"/>
<rect x="440" y="40" width="1" height="5" fill="#01d9d8"/>
<rect x="441" y="40" width="2" height="5" fill="#26edc7"/>
<rect x="443" y="40" width="1" height="5" fill="#0088b8"/>
<rect x="445" y="40" width="1" height="5" fill="#6cff93"/>
<rect x="446" y="40" width="1" height="5" fill="#0088b8"/>
<rect x="447" y="40" width="1" height="5" fill="#01d9d8"/>
<rect x="449" y="40" width="2" height="5" fill="#01d9d8"/>
<rect x="452" y="40" width="1" height="5" fill="#26edc7"/>
<rect x="454" y="40" width="2" height="5" fill="#45ffba"/>
<rect x="456" y="40" width="2" height="5" fill="#01d9d8"/>
<rect x="458" y="40" width="1" height="5" fill="#0088b8"/>
<rect x="461" y="40" width="1" height="5" fill="#01d9d8"/>
<rect x="462" y="40" width="1" height="5" fill="#0088b8"/>
<rect x="464" y="40" width="2" height="5" fill="#0088b8"/>
<rect x="471" y="40" width="1" height="5" fill="#0088b8"/>
<rect x="473" y="40" width="1" height="5" fill="#01d9d8"/>
<rect x="65" y="45" width="1" height="5" fill="#0096b8"/>
<rect x="74" y="45" width="1" height="5" fill="#0096b8"/>
<rect x="77" y="45" width="2" height="5" fill="#0096b8"/>
<rect x="80" y="45" width="1" height="5" fill="#13d9c6"/>
<rect x="82" y="45" width="1" height="5" fill="#59ffa6"/>
<rect x="83" y="45" width="1" height="5" fill="#13d9c6"/>
<rect x="84" y="45" width="1" height="5" fill="#0096b8"/>
<rect x="85" y="45" width="1" height="5" fill="#bcff43"/>
<rect x="86" y="45" width="1" height="5" fill="#39edb4"/>
<rect x="87" y="45" width="1" height="5" fill="#6fff90"/>
<rect x="88" y="45" width="1" height="5" fill="#bcff43"/>
<rect x="89" y="45" width="2" height="5" fill="#a8ff57"/>
<rect x="91" y="45" width="1" height="5" fill="#bcff43"/>
<rect x="92" y="45" width="1" height="5" fill="#59ffa6"/>
<rect x="93" y="45" width="2" height="5" fill="#90ff6f"/>
<rect x="95" y="45" width="2" height="5" fill="#59ffa6"/>
<rect x="97" y="45" width="1" height="5" fill="#9dff62"/>
<rect x="98" y="45" width="1" height="5" fill="#81ff7e"/>
<rect x="99" y="45" width="1" height="5" fill="#90ff6f"/>
<rect x="100" y="45" width="1" height="5" fill="#9dff62"/>
<rect x="101" y="45" width="2" height="5" fill="#13d9c6"/>
<rect x="103" y="45" width="1" height="5" fill="#0096b8"/>
<rect x="104" y="45" width="1" height="5" fill="#90ff6f"/>
<rect x="105" y="45" width="1" height="5" fill="#0096b8"/>
<rect x="106" y="45" width="1" height="5" fill="#13d9c6"/>
<rect x="107" y="45" width="1" height="5" fill="#6fff90"/>
<rect x="111" y="45" width="1" height="5" fill="#0096b8"/>
<rect x="112" y="45" width="1" height="5" fill="#81ff7e"/>
<rect x="113" y="45" width="2" height="5" fill="#59ffa6"/>
<rect x="115" y="45" width="1" height="5" fill="#13d9c6"/>
<rect x="116" y="45" width="1" height="5" fill="#bcff43"/>
<rect x="117" y="45" width="1" height="5" fill="#0096b8"/>
<rect x="118" y="45" width="1" height="5" fill="#39edb4"/>
<rect x="119" y="45" width="1" height="5" fill="#81ff7e"/>
<rect x="120" y="45" width="1" height="5" fill="#6fff90"/>
<rect x="121" y="45" width="1" height="5" fill="#59ffa6"/>
<rect x="123" y="45" width="1" height="5" fill="#9dff62"/>
<rect x="124" y="45" width="3" height="5" fill="#59ffa6"/>
<rect x="127" y="45" width="2" height="5" fill="#0096b8"/>
<rect x="129" y="45" width="1" height="5" fill="#13d9c6"/>
<rect x="131" y="45" width="1" height="5" fill="#0096b8"/>
<rect x="132" y="45" width="1" height="5" fill="#13d9c6"/>
<rect x="135" y="45" width="1" height="5" fill="#0096b8"/>
<rect x="140" y="45" width="1" height="5" fill="#13d9c6"/>
<rect x="143" y="45" width="1" height="5" fill="#0096b8"/>
<rect x="148" y="45" width="1" height="5" fill="#0096b8"/>
<rect x="150" y="45" width="1" height="5" fill="#0096b8"/>
<rect x="154" y="45" width="1" height="5" fill="#0096b8"/>
<rect x="166" y="45" width="1" height="5" fill="#0096b8"/>
<rect x="167" y="45" width="1" height="5" fill="#13d9c6"/>
<rect x="170" y="45" width="1" height="5" fill="#0096b8"/>
<rect x="174" y="45" width="1" height="5" fill="#13d9c6"/>
<rect x="176" y="45" width="1" height="5" fill="#0096b8"/>
<rect x="177" y="45" width="1" height="5" fill="#13d9c6"/>
<rect x="179" y="45" width="1" height="5" fill="#0096b8"/>
<rect x="185" y="45" width="1" height="5" fill="#0096b8"/>
<rect x="198" y="45" width="1" height="5" fill="#0096b8"/>
<rect x="199" y="45" width="1" height="5" fill="#13d9c6"/>
<rect x="206" y="45" width="1" height="5" fill="#13d9c6"/>
<rect x="214" y="45" width="2" height="5" fill="#0096b8"/>
<rect x="219" y="45" width="1" height="5" fill="#0096b8"/>
<rect x="221" y="45" width="1" height="5" fill="#0096b8"/>
<rect x="225" y="45" width="4" height="5" fill="#0096b8"/>
<rect x="230" y="45" width="3" height="5" fill="#0096b8"/>
<rect x="234" y="45" width="1" height="5" fill="#0096b8"/>
<rect x="236" y="45" width="1" height="5" fill="#39edb4"/>
<rect x="238" y="45" width="3" height="5" fill="#0096b8"/>
<rect x="241" y="45" width="1" height="5" fill="#13d9c6"/>
<rect x="247" y="45" width="1" height="5" fill="#0096b8"/>
<rect x="250" y="45" width="2" height="5" fill="#0096b8"/>
<rect x="252" y="45" width="1" height="5" fill="#13d9c6"/>
<rect x="255" y="45" width="2" height="5" fill="#0096b8"/>
<rect x="257" y="45" width="1" height="5" fill="#13d9c6"/>
<rect x="258" y="45" width="1" height="5" fill="#0096b8"/>
<rect x="259" y="45" width="2" height="5" fill="#13d9c6"/>
<rect x="261" y="45" width="1" height="5" fill="#b3ff4c"/>
<rect x="262" y="45" width="1" height="5" fill="#f6ff09"/>
<rect x="263" y="45" width="1" height="5" fill="#c4ff3b"/>
<rect x="264" y="45" width="1" height="5" fill="#d3ff2c"/>
<rect x="265" y="45" width="1" height="5" fill="#e0ff1f"/>
<rect x="266" y="45" width="1" height="5" fill="#9dff62"/>
<rect x="267" y="45" width="1" height="5" fill="#39edb4"/>
<rect x="268" y="45" width="1" height="5" fill="#81ff7e"/>
<rect x="269" y="45" width="2" height="5" fill="#f1ff0e"/>
<rect x="271" y="45" width="1" height="5" fill="#39edb4"/>
<rect x="272" y="45" width="1" height="5" fill="#c4ff3b"/>
<rect x="273" y="45" width="1" height="5" fill="#39edb4"/>
<rect x="274" y="45" width="2" height="5" fill="#0096b8"/>
<rect x="276" y="45" width="1" height="5" fill="#fffa00"/>
<rect x="277" y="45" width="1" height="5" fill="#b3ff4c"/>
<rect x="278" y="45" width="1" height="5" fill="#a8ff57"/>
<rect x="279" y="45" width="1" height="5" fill="#13d9c6"/>
<rect x="280" y="45" width="1" height="5" fill="#9dff62"/>
<rect x="281" y="45" width="1" height="5" fill="#ccff33"/>
<rect x="283" y="45" width="1" height="5" fill="#90ff6f"/>
<rect x="284" y="45" width="1" height="5" fill="#13d9c6"/>
<rect x="285" y="45" width="1" height="5" fill="#6fff90"/>
<rect x="287" y="45" width="3" height="5" fill="#0096b8"/>
<rect x="290" y="45" width="1" height="5" fill="#13d9c6"/>
<rect x="291" y="45" width="1" height="5" fill="#0096b8"/>
<rect x="292" y="45" width="1" height="5" fill="#39edb4"/>
<rect x="293" y="45" width="1" height="5" fill="#0096b8"/>
<rect x="294" y="45" width="1" height="5" fill="#13d9c6"/>
<rect x="296" y="45" width="5" height="5" fill="#0096b8"/>
<rect x="302" y="45" width="1" height="5" fill="#0096b8"/>
<rect x="303" y="45" width="1" height="5" fill="#13d9c6"/>
<rect x="304" y="45" width="1" height="5" fill="#0096b8"/>
<rect x="306" y="45" width="1" height="5" fill="#0096b8"/>
<rect x="308" y="45" width="1" height="5" fill="#13d9c6"/>
<rect x="309" y="45" width="1" height="5" fill="#0096b8"/>
<rect x="311" y="45" width="1" height="5" fill="#13d9c6"/>
<rect x="312" y="45" width="1" height="5" fill="#0096b8"/>
<rect x="314" y="45" width="2" height="5" fill="#0096b8"/>
<rect x="319" y="45" width="1" height="5" fill="#13d9c6"/>
<rect x="321" y="45" width="3" height="5" fill="#0096b8"/>
<rect x="324" y="45" width="1" height="5" fill="#13d9c6"/>
<rect x="325" y="45" width="1" height="5" fill="#0096b8"/>
<rect x="326" y="45" width="1" height="5" fill="#13d9c6"/>
<rect x="330" y="45" width="1" height="5" fill="#0096b8"/>
<rect x="336" y="45" width="1" height="5" fill="#13d9c6"/>
<rect x="337" y="45" width="1" height="5" fill="#0096b8"/>
<rect x="339" y="45" width="3" height="5" fill="#0096b8"/>
<rect x="345" y="45" width="2" height="5" fill="#0096b8"/>
<rect x="347" y="45" width="1" height="5" fill="#13d9c6"/>
<rect x="349" y="45" width="1" height="5" fill="#0096b8"/>
<rect x="352" y="45" width="1" height="5" fill="#13d9c6"/>
<rect x="358" y="45" width="1" height="5" fill="#39edb4"/>
<rect x="361" y="45" width="1" height="5" fill="#0096b8"/>
<rect x="363" y="45" width="1" height="5" fill="#0096b8"/>
<rect x="370" y="45" width="1" height="5" fill="#0096b8"/>
<rect x="372" y="45" width="1" height="5" fill="#0096b8"/>
<rect x="374" y="45" width="1" height="5" fill="#0096b8"/>
<rect x="376" y="45" width="1" height="5" fill="#0096b8"/>
<rect x="377" y="45" width="1" height="5" fill="#13d9c6"/>
<rect x="384" y="45" width="1" height="5" fill="#0096b8"/>
<rect x="386" y="45" width="1" height="5" fill="#13d9c6"/>
<rect x="393" y="45" width="1" height="5" fill="#0096b8"/>
<rect x="395" y="45" width="1" height="5" fill="#13d9c6"/>
<rect x="402" y="45" width="1" height="5" fill="#0096b8"/>
<rect x="407" y="45" width="2" height="5" fill="#0096b8"/>
<rect x="409" y="45" width="1" height="5" fill="#13d9c6"/>
<rect x="412" y="45" width="2" height="5" fill="#0096b8"/>
<rect x="416" y="45" width="1" height="5" fill="#0096b8"/>
<rect x="418" y="45" width="1" height="5" fill="#39edb4"/>
<rect x="419" y="45" width="4" height="5" fill="#0096b8"/>
<rect x="426" y="45" width="2" height="5" fill="#13d9c6"/>
<rect x="429" y="45" width="1" height="5" fill="#0096b8"/>
<rect x="431" y="45" width="1" height="5" fill="#0096b8"/>
<rect x="432" y="45" width="1" height="5" fill="#39edb4"/>
<rect x="434" y="45" width="1" height="5" fill="#0096b8"/>
<rect x="436" y="45" width="1" height="5" fill="#0096b8"/>
<rect x="438" y="45" width="1" height="5" fill="#39edb4"/>
<rect x="440" y="45" width="1" height="5" fill="#0096b8"/>
<rect x="441" y="45" width="1" height="5" fill="#6fff90"/>
<rect x="442" y="45" width="1" height="5" fill="#0096b8"/>
<rect x="443" y="45" width="2" height="5" fill="#39edb4"/>
<rect x="445" y="45" width="1" height="5" fill="#13d9c6"/>
<rect x="446" y="45" width="1" height="5" fill="#0096b8"/>
<rect x="447" y="45" width="2" height="5" fill="#39edb4"/>
<rect x="450" y="45" width="1" height="5" fill="#0096b8"/>
<rect x="451" y="45" width="1" height="5" fill="#90ff6f"/>
<rect x="452" y="45" width="1" height="5" fill="#0096b8"/>
<rect x="454" y="45" width="1" height="5" fill="#13d9c6"/>
<rect x="455" y="45" width="1" height="5" fill="#59ffa6"/>
<rect x="456" y="45" width="1" height="5" fill="#81ff7e"/>
<rect x="457" y="45" width="1" height="5" fill="#59ffa6"/>
<rect x="458" y="45" width="1" height="5" fill="#13d9c6"/>
<rect x="460" y="45" width="1" height="5" fill="#59ffa6"/>
<rect x="461" y="45" width="1" height="5" fill="#13d9c6"/>
<rect x="463" y="45" width="1" height="5" fill="#13d9c6"/>
<rect x="464" y="45" width="1" height="5" fill="#0096b8"/>
<rect x="465" y="45" width="1" height="5" fill="#13d9c6"/>
<rect x="466" y="45" width="1" height="5" fill="#0096b8"/>
<rect x="467" y="45" width="1" height="5" fill="#13d9c6"/>
<rect x="468" y="45" width="1" height="5" fill="#39edb4"/>
<rect x="68" y="50" width="4" height="5" fill="#00a5b8"/>
<rect x="74" y="50" width="1" height="5" fill="#00a5b8"/>
<rect x="82" y="50" width="1" height="5" fill="#e8ff17"/>
<rect x="83" y="50" width="1" height="5" fill="#fffe00"/>
<rect x="84" y="50" width="1" height="5" fill="#95ff6a"/>
<rect x="85" y="50" width="1" height="5" fill="#b1ff4e"/>
<rect x="86" y="50" width="1" height="5" fill="#83ff7c"/>
<rect x="87" y="50" width="1" height="5" fill="#c7ff38"/>
<rect x="88" y="50" width="1" height="5" fill="#f5ff0a"/>
<rect x="89" y="50" width="1" height="5" fill="#ffa500"/>
<rect x="90" y="50" width="1" height="5" fill="#d0ff2f"/>
<rect x="91" y="50" width="1" height="5" fill="#ffd600"/>
<rect x="92" y="50" width="1" height="5" fill="#d9ff26"/>
<rect x="93" y="50" width="1" height="5" fill="#bdff42"/>
<rect x="94" y="50" width="1" height="5" fill="#b1ff4e"/>
<rect x="95" y="50" width="1" height="5" fill="#bdff42"/>
<rect x="97" y="50" width="1" height="5" fill="#00a5b8"/>
<rect x="98" y="50" width="1" height="5" fill="#d9ff26"/>
<rect x="99" y="50" width="1" height="5" fill="#a4ff5b"/>
<rect x="100" y="50" width="1" height="5" fill="#6eff91"/>
<rect x="101" y="50" width="1" height="5" fill="#95ff6a"/>
<rect x="102" y="50" width="1" height="5" fill="#ffc300"/>
<rect x="103" y="50" width="1" height="5" fill="#24d9b5"/>
<rect x="105" y="50" width="1" height="5" fill="#4ceda1"/>
<rect x="106" y="50" width="1" height="5" fill="#24d9b5"/>
<rect x="107" y="50" width="1" height="5" fill="#83ff7c"/>
<rect x="110" y="50" width="1" height="5" fill="#00a5b8"/>
<rect x="111" y="50" width="1" height="5" fill="#6eff91"/>
<rect x="112" y="50" width="1" height="5" fill="#00a5b8"/>
<rect x="113" y="50" width="1" height="5" fill="#95ff6a"/>
<rect x="115" y="50" width="1" height="5" fill="#6eff91"/>
<rect x="116" y="50" width="1" height="5" fill="#b1ff4e"/>
<rect x="117" y="50" width="1" height="5" fill="#d9ff26"/>
<rect x="118" y="50" width="1" height="5" fill="#d0ff2f"/>
<rect x="119" y="50" width="1" height="5" fill="#f5ff0a"/>
<rect x="120" y="50" width="1" height="5" fill="#e0ff1f"/>
<rect x="121" y="50" width="1" height="5" fill="#d9ff26"/>
<rect x="122" y="50" width="1" height="5" fill="#00a5b8"/>
<rect x="123" y="50" width="1" height="5" fill="#4ceda1"/>
<rect x="124" y="50" width="1" height="5" fill="#95ff6a"/>
<rect x="125" y="50" width="1" height="5" fill="#a4ff5b"/>
<rect x="126" y="50" width="2" height="5" fill="#24d9b5"/>
<rect x="128" y="50" width="1" height="5" fill="#00a5b8"/>
<rect x="129" y="50" width="1" height="5" fill="#24d9b5"/>
<rect x="131" y="50" width="1" height="5" fill="#4ceda1"/>
<rect x="132" y="50" width="1" height="5" fill="#24d9b5"/>
<rect x="136" y="50" width="1" height="5" fill="#00a5b8"/>
<rect x="138" y="50" width="1" height="5" fill="#00a5b8"/>
<rect x="142" y="50" width="1" height="5" fill="#00a5b8"/>
<rect x="150" y="50" width="1" height="5" fill="#00a5b8"/>
<rect x="154" y="50" width="1" height="5" fill="#00a5b8"/>
<rect x="158" y="50" width="1" height="5" fill="#00a5b8"/>
<rect x="160" y="50" width="1" height="5" fill="#00a5b8"/>
<rect x="163" y="50" width="1" height="5" fill="#00a5b8"/>
<rect x="165" y="50" width="1" height="5" fill="#00a5b8"/>
<rect x="170" y="50" width="1" height="5" fill="#00a5b8"/>
<rect x="173" y="50" width="2" height="5" fill="#00a5b8"/>
<rect x="176" y="50" width="1" height="5" fill="#24d9b5"/>
<rect x="177" y="50" width="1" height="5" fill="#00a5b8"/>
<rect x="184" y="50" width="1" height="5" fill="#00a5b8"/>
<rect x="186" y="50" width="2" height="5" fill="#00a5b8"/>
<rect x="191" y="50" width="1" height="5" fill="#00a5b8"/>
<rect x="193" y="50" width="1" height="5" fill="#00a5b8"/>
<rect x="208" y="50" width="1" height="5" fill="#00a5b8"/>
<rect x="213" y="50" width="1" height="5" fill="#00a5b8"/>
<rect x="215" y="50" width="1" height="5" fill="#00a5b8"/>
<rect x="224" y="50" width="1" height="5" fill="#00a5b8"/>
<rect x="227" y="50" width="1" height="5" fill="#00a5b8"/>
<rect x="233" y="50" width="1" height="5" fill="#24d9b5"/>
<rect x="234" y="50" width="1" height="5" fill="#00a5b8"/>
<rect x="237" y="50" width="1" height="5" fill="#00a5b8"/>
<rect x="244" y="50" width="1" height="5" fill="#00a5b8"/>
<rect x="250" y="50" width="4" height="5" fill="#00a5b8"/>
<rect x="255" y="50" width="1" height="5" fill="#6eff91"/>
<rect x="256" y="50" width="1" height="5" fill="#83ff7c"/>
<rect x="258" y="50" width="1" height="5" fill="#24d9b5"/>
<rect x="259" y="50" width="1" height="5" fill="#4ceda1"/>
<rect x="260" y="50" width="1" height="5" fill="#ffef00"/>
<rect x="261" y="50" width="1" height="5" fill="#95ff6a"/>
<rect x="262" y="50" width="1" height="5" fill="#ffe600"/>
<rect x="263" y="50" width="1" height="5" fill="#fff400"/>
<rect x="264" y="50" width="1" height="5" fill="#d0ff2f"/>
<rect x="265" y="50" width="1" height="5" fill="#fffe00"/>
<rect x="266" y="50" width="1" height="5" fill="#ff6200"/>
<rect x="267" y="50" width="1" height="5" fill="#a4ff5b"/>
<rect x="268" y="50" width="1" height="5" fill="#d0ff2f"/>
<rect x="269" y="50" width="1" height="5" fill="#fff900"/>
<rect x="270" y="50" width="1" height="5" fill="#a4ff5b"/>
<rect x="271" y="50" width="1" height="5" fill="#fff900"/>
<rect x="272" y="50" width="1" height="5" fill="#ffa700"/>
<rect x="273" y="50" width="1" height="5" fill="#ffe600"/>
<rect x="274" y="50" width="1" height="5" fill="#b1ff4e"/>
<rect x="275" y="50" width="1" height="5" fill="#d9ff26"/>
<rect x="276" y="50" width="1" height="5" fill="#ffa500"/>
<rect x="277" y="50" width="1" height="5" fill="#fff900"/>
<rect x="278" y="50" width="1" height="5" fill="#fff400"/>
<rect x="279" y="50" width="1" height="5" fill="#6eff91"/>
<rect x="280" y="50" width="1" height="5" fill="#eeff11"/>
<rect x="281" y="50" width="1" height="5" fill="#bdff42"/>
<rect x="282" y="50" width="1" height="5" fill="#eeff11"/>
<rect x="283" y="50" width="1" height="5" fill="#00a5b8"/>
<rect x="284" y="50" width="1" height="5" fill="#24d9b5"/>
<rect x="285" y="50" width="1" height="5" fill="#d9ff26"/>
<rect x="286" y="50" width="1" height="5" fill="#00a5b8"/>
<rect x="287" y="50" width="1" height="5" fill="#4ceda1"/>
<rect x="288" y="50" width="1" height="5" fill="#95ff6a"/>
<rect x="289" y="50" width="4" height="5" fill="#24d9b5"/>
<rect x="294" y="50" width="3" height="5" fill="#00a5b8"/>
<rect x="297" y="50" width="1" height="5" fill="#4ceda1"/>
<rect x="299" y="50" width="1" height="5" fill="#00a5b8"/>
<rect x="303" y="50" width="1" height="5" fill="#24d9b5"/>
<rect x="306" y="50" width="1" height="5" fill="#24d9b5"/>
<rect x="308" y="50" width="1" height="5" fill="#00a5b8"/>
<rect x="311" y="50" width="2" height="5" fill="#00a5b8"/>
<rect x="316" y="50" width="1" height="5" fill="#24d9b5"/>
<rect x="318" y="50" width="2" height="5" fill="#00a5b8"/>
<rect x="321" y="50" width="1" height="5" fill="#24d9b5"/>
<rect x="322" y="50" width="1" height="5" fill="#00a5b8"/>
<rect x="324" y="50" width="1" height="5" fill="#24d9b5"/>
<rect x="325" y="50" width="1" height="5" fill="#00a5b8"/>
<rect x="326" y="50" width="1" height="5" fill="#4ceda1"/>
<rect x="327" y="50" width="1" height="5" fill="#00a5b8"/>
<rect x="329" y="50" width="2" height="5" fill="#00a5b8"/>
<rect x="334" y="50" width="1" height="5" fill="#00a5b8"/>
<rect x="340" y="50" width="2" height="5" fill="#00a5b8"/>
<rect x="347" y="50" width="1" height="5" fill="#24d9b5"/>
<rect x="353" y="50" width="1" height="5" fill="#00a5b8"/>
<rect x="363" y="50" width="1" height="5" fill="#00a5b8"/>
<rect x="365" y="50" width="1" height="5" fill="#00a5b8"/>
<rect x="374" y="50" width="2" height="5" fill="#00a5b8"/>
<rect x="381" y="50" width="1" height="5" fill="#00a5b8"/>
<rect x="384" y="50" width="3" height="5" fill="#00a5b8"/>
<rect x="388" y="50" width="1" height="5" fill="#00a5b8"/>
<rect x="392" y="50" width="3" height="5" fill="#00a5b8"/>
<rect x="397" y="50" width="1" height="5" fill="#00a5b8"/>
<rect x="402" y="50" width="3" height="5" fill="#00a5b8"/>
<rect x="416" y="50" width="1" height="5" fill="#24d9b5"/>
<rect x="418" y="50" width="1" height="5" fill="#00a5b8"/>
<rect x="422" y="50" width="2" height="5" fill="#00a5b8"/>
<rect x="429" y="50" width="1" height="5" fill="#24d9b5"/>
<rect x="430" y="50" width="1" height="5" fill="#00a5b8"/>
<rect x="432" y="50" width="1" height="5" fill="#00a5b8"/>
<rect x="433" y="50" width="1" height="5" fill="#24d9b5"/>
<rect x="434" y="50" width="1" height="5" fill="#4ceda1"/>
<rect x="435" y="50" width="1" height="5" fill="#00a5b8"/>
<rect x="436" y="50" width="1" height="5" fill="#83ff7c"/>
<rect x="438" y="50" width="1" height="5" fill="#c7ff38"/>
<rect x="440" y="50" width="1" height="5" fill="#6eff91"/>
<rect x="441" y="50" width="1" height="5" fill="#e0ff1f"/>
<rect x="442" y="50" width="1" height="5" fill="#83ff7c"/>
<rect x="444" y="50" width="1" height="5" fill="#83ff7c"/>
<rect x="445" y="50" width="1" height="5" fill="#95ff6a"/>
<rect x="446" y="50" width="2" height="5" fill="#83ff7c"/>
<rect x="448" y="50" width="2" height="5" fill="#24d9b5"/>
<rect x="450" y="50" width="1" height="5" fill="#00a5b8"/>
<rect x="451" y="50" width="1" height="5" fill="#83ff7c"/>
<rect x="452" y="50" width="1" height="5" fill="#24d9b5"/>
<rect x="454" y="50" width="1" height="5" fill="#d0ff2f"/>
<rect x="455" y="50" width="1" height="5" fill="#24d9b5"/>
<rect x="457" y="50" width="1" height="5" fill="#00a5b8"/>
<rect x="458" y="50" width="1" height="5" fill="#6eff91"/>
<rect x="459" y="50" width="1" height="5" fill="#4ceda1"/>
<rect x="460" y="50" width="1" height="5" fill="#95ff6a"/>
<rect x="461" y="50" width="1" height="5" fill="#00a5b8"/>
<rect x="462" y="50" width="1" height="5" fill="#24d9b5"/>
<rect x="463" y="50" width="5" height="5" fill="#00a5b8"/>
<rect x="468" y="50" width="1" height="5" fill="#24d9b5"/>
<rect x="65" y="55" width="1" height="5" fill="#3ed99b"/>
<rect x="68" y="55" width="1" height="5" fill="#04b8b4"/>
<rect x="76" y="55" width="2" height="5" fill="#3ed99b"/>
<rect x="79" y="55" width="3" height="5" fill="#04b8b4"/>
<rect x="82" y="55" width="1" height="5" fill="#ffeb00"/>
<rect x="83" y="55" width="1" height="5" fill="#ffc300"/>
<rect x="84" y="55" width="1" height="5" fill="#8cff73"/>
<rect x="85" y="55" width="1" height="5" fill="#ffb800"/>
<rect x="86" y="55" width="1" height="5" fill="#ffe500"/>
<rect x="87" y="55" width="1" height="5" fill="#ffdf00"/>
<rect x="88" y="55" width="1" height="5" fill="#fff100"/>
<rect x="89" y="55" width="1" height="5" fill="#d0ff2f"/>
<rect x="90" y="55" width="1" height="5" fill="#ffbb00"/>
<rect x="91" y="55" width="1" height="5" fill="#ffeb00"/>
<rect x="92" y="55" width="1" height="5" fill="#f7ff08"/>
<rect x="93" y="55" width="1" height="5" fill="#efff10"/>
<rect x="94" y="55" width="1" height="5" fill="#d0ff2f"/>
<rect x="95" y="55" width="1" height="5" fill="#ff5c00"/>
<rect x="96" y="55" width="1" height="5" fill="#a2ff5d"/>
<rect x="97" y="55" width="1" height="5" fill="#ffd500"/>
<rect x="98" y="55" width="1" height="5" fill="#ffeb00"/>
<rect x="99" y="55" width="1" height="5" fill="#ffff00"/>
<rect x="100" y="55" width="1" height="5" fill="#ffd000"/>
<rect x="101" y="55" width="1" height="5" fill="#ffcc00"/>
<rect x="102" y="55" width="1" height="5" fill="#ff8600"/>
<rect x="103" y="55" width="1" height="5" fill="#a2ff5d"/>
<rect x="104" y="55" width="1" height="5" fill="#f7ff08"/>
<rect x="105" y="55" width="1" height="5" fill="#ffff00"/>
<rect x="107" y="55" width="1" height="5" fill="#68ed85"/>
<rect x="110" y="55" width="1" height="5" fill="#3ed99b"/>
<rect x="111" y="55" width="1" height="5" fill="#ffff00"/>
<rect x="112" y="55" width="1" height="5" fill="#c3ff3c"/>
<rect x="113" y="55" width="1" height="5" fill="#a2ff5d"/>
<rect x="114" y="55" width="1" height="5" fill="#8cff73"/>
<rect x="115" y="55" width="1" height="5" fill="#ff9e00"/>
<rect x="116" y="55" width="1" height="5" fill="#ffd500"/>
<rect x="117" y="55" width="1" height="5" fill="#f7ff08"/>
<rect x="118" y="55" width="1" height="5" fill="#ffc700"/>
<rect x="119" y="55" width="1" height="5" fill="#ffff00"/>
<rect x="120" y="55" width="1" height="5" fill="#f7ff08"/>
<rect x="121" y="55" width="1" height="5" fill="#dbff24"/>
<rect x="122" y="55" width="1" height="5" fill="#3ed99b"/>
<rect x="123" y="55" width="1" height="5" fill="#efff10"/>
<rect x="124" y="55" width="1" height="5" fill="#a2ff5d"/>
<rect x="125" y="55" width="1" height="5" fill="#04b8b4"/>
<rect x="126" y="55" width="1" height="5" fill="#8cff73"/>
<rect x="127" y="55" width="1" height="5" fill="#68ed85"/>
<rect x="128" y="55" width="2" height="5" fill="#3ed99b"/>
<rect x="135" y="55" width="1" height="5" fill="#3ed99b"/>
<rect x="150" y="55" width="1" height="5" fill="#04b8b4"/>
<rect x="161" y="55" width="1" height="5" fill="#04b8b4"/>
<rect x="164" y="55" width="1" height="5" fill="#04b8b4"/>
<rect x="185" y="55" width="2" height="5" fill="#04b8b4"/>
<rect x="191" y="55" width="1" height="5" fill="#04b8b4"/>
<rect x="194" y="55" width="1" height="5" fill="#04b8b4"/>
<rect x="206" y="55" width="1" height="5" fill="#04b8b4"/>
<rect x="222" y="55" width="2" height="5" fill="#04b8b4"/>
<rect x="227" y="55" width="1" height="5" fill="#3ed99b"/>
<rect x="233" y="55" width="1" height="5" fill="#04b8b4"/>
<rect x="239" y="55" width="1" height="5" fill="#04b8b4"/>
<rect x="241" y="55" width="1" height="5" fill="#04b8b4"/>
<rect x="244" y="55" width="1" height="5" fill="#68ed85"/>
<rect x="245" y="55" width="2" height="5" fill="#04b8b4"/>
<rect x="250" y="55" width="1" height="5" fill="#04b8b4"/>
<rect x="251" y="55" width="1" height="5" fill="#3ed99b"/>
<rect x="252" y="55" width="1" height="5" fill="#04b8b4"/>
<rect x="253" y="55" width="1" height="5" fill="#8cff73"/>
<rect x="254" y="55" width="2" height="5" fill="#3ed99b"/>
<rect x="256" y="55" width="1" height="5" fill="#b4ff4b"/>
<rect x="258" y="55" width="1" height="5" fill="#3ed99b"/>
<rect x="259" y="55" width="1" height="5" fill="#ffc300"/>
<rect x="260" y="55" width="1" height="5" fill="#dbff24"/>
<rect x="261" y="55" width="1" height="5" fill="#c3ff3c"/>
<rect x="262" y="55" width="1" height="5" fill="#ff6100"/>
<rect x="263" y="55" width="1" height="5" fill="#ffdf00"/>
<rect x="264" y="55" width="1" height="5" fill="#f7ff08"/>
<rect x="265" y="55" width="1" height="5" fill="#ffbf00"/>
<rect x="266" y="55" width="1" height="5" fill="#ff7200"/>
<rect x="267" y="55" width="1" height="5" fill="#ffe500"/>
<rect x="268" y="55" width="1" height="5" fill="#ffb400"/>
<rect x="269" y="55" width="1" height="5" fill="#ff9100"/>
<rect x="270" y="55" width="1" height="5" fill="#ff8600"/>
<rect x="271" y="55" width="1" height="5" fill="#f7ff08"/>
<rect x="272" y="55" width="1" height="5" fill="#3ed99b"/>
<rect x="273" y="55" width="1" height="5" fill="#ffbf00"/>
<rect x="274" y="55" width="1" height="5" fill="#ffad00"/>
<rect x="275" y="55" width="1" height="5" fill="#ffcc00"/>
<rect x="276" y="55" width="1" height="5" fill="#ff4100"/>
<rect x="277" y="55" width="1" height="5" fill="#ff9900"/>
<rect x="278" y="55" width="1" height="5" fill="#efff10"/>
<rect x="279" y="55" width="1" height="5" fill="#ffda00"/>
<rect x="282" y="55" width="1" height="5" fill="#fff100"/>
<rect x="283" y="55" width="1" height="5" fill="#c3ff3c"/>
<rect x="284" y="55" width="1" height="5" fill="#68ed85"/>
<rect x="285" y="55" width="1" height="5" fill="#f7ff08"/>
<rect x="289" y="55" width="2" height="5" fill="#8cff73"/>
<rect x="292" y="55" width="1" height="5" fill="#04b8b4"/>
<rect x="294" y="55" width="1" height="5" fill="#c3ff3c"/>
<rect x="295" y="55" width="1" height="5" fill="#a2ff5d"/>
<rect x="296" y="55" width="1" height="5" fill="#68ed85"/>
<rect x="297" y="55" width="1" height="5" fill="#04b8b4"/>
<rect x="298" y="55" width="1" height="5" fill="#3ed99b"/>
<rect x="300" y="55" width="1" height="5" fill="#3ed99b"/>
<rect x="302" y="55" width="1" height="5" fill="#3ed99b"/>
<rect x="304" y="55" width="1" height="5" fill="#68ed85"/>
<rect x="305" y="55" width="1" height="5" fill="#3ed99b"/>
<rect x="306" y="55" width="1" height="5" fill="#04b8b4"/>
<rect x="307" y="55" width="2" height="5" fill="#68ed85"/>
<rect x="309" y="55" width="2" height="5" fill="#04b8b4"/>
<rect x="311" y="55" width="1" height="5" fill="#68ed85"/>
<rect x="313" y="55" width="1" height="5" fill="#68ed85"/>
<rect x="314" y="55" width="3" height="5" fill="#04b8b4"/>
<rect x="318" y="55" width="1" height="5" fill="#04b8b4"/>
<rect x="319" y="55" width="1" height="5" fill="#a2ff5d"/>
<rect x="320" y="55" width="1" height="5" fill="#04b8b4"/>
<rect x="322" y="55" width="2" height="5" fill="#04b8b4"/>
<rect x="324" y="55" width="1" height="5" fill="#3ed99b"/>
<rect x="325" y="55" width="1" height="5" fill="#04b8b4"/>
<rect x="327" y="55" width="1" height="5" fill="#8cff73"/>
<rect x="336" y="55" width="1" height="5" fill="#04b8b4"/>
<rect x="365" y="55" width="1" height="5" fill="#04b8b4"/>
<rect x="371" y="55" width="1" height="5" fill="#04b8b4"/>
<rect x="381" y="55" width="1" height="5" fill="#04b8b4"/>
<rect x="394" y="55" width="1" height="5" fill="#04b8b4"/>
<rect x="398" y="55" width="1" height="5" fill="#04b8b4"/>
<rect x="408" y="55" width="1" height="5" fill="#04b8b4"/>
<rect x="410" y="55" width="1" height="5" fill="#04b8b4"/>
<rect x="414" y="55" width="1" height="5" fill="#04b8b4"/>
<rect x="419" y="55" width="1" height="5" fill="#3ed99b"/>
<rect x="420" y="55" width="1" height="5" fill="#04b8b4"/>
<rect x="421" y="55" width="1" height="5" fill="#68ed85"/>
<rect x="424" y="55" width="1" height="5" fill="#04b8b4"/>
<rect x="426" y="55" width="1" height="5" fill="#68ed85"/>
<rect x="427" y="55" width="2" height="5" fill="#04b8b4"/>
<rect x="429" y="55" width="1" height="5" fill="#3ed99b"/>
<rect x="430" y="55" width="1" height="5" fill="#68ed85"/>
<rect x="432" y="55" width="1" height="5" fill="#68ed85"/>
<rect x="434" y="55" width="1" height="5" fill="#c3ff3c"/>
<rect x="435" y="55" width="1" height="5" fill="#d0ff2f"/>
<rect x="436" y="55" width="1" height="5" fill="#c3ff3c"/>
<rect x="437" y="55" width="1" height="5" fill="#68ed85"/>
<rect x="438" y="55" width="1" height="5" fill="#c3ff3c"/>
<rect x="439" y="55" width="1" height="5" fill="#3ed99b"/>
<rect x="440" y="55" width="1" height="5" fill="#68ed85"/>
<rect x="441" y="55" width="1" height="5" fill="#ffbb00"/>
<rect x="442" y="55" width="1" height="5" fill="#b4ff4b"/>
<rect x="444" y="55" width="1" height="5" fill="#ffb800"/>
<rect x="445" y="55" width="1" height="5" fill="#fff100"/>
<rect x="446" y="55" width="1" height="5" fill="#f7ff08"/>
<rect x="447" y="55" width="2" height="5" fill="#a2ff5d"/>
<rect x="449" y="55" width="1" height="5" fill="#dbff24"/>
<rect x="450" y="55" width="1" height="5" fill="#b4ff4b"/>
<rect x="451" y="55" width="1" height="5" fill="#fff100"/>
<rect x="452" y="55" width="1" height="5" fill="#e5ff1a"/>
<rect x="453" y="55" width="1" height="5" fill="#68ed85"/>
<rect x="454" y="55" width="1" height="5" fill="#c3ff3c"/>
<rect x="455" y="55" width="1" height="5" fill="#ffd000"/>
<rect x="456" y="55" width="1" height="5" fill="#ffcc00"/>
<rect x="457" y="55" width="1" height="5" fill="#68ed85"/>
<rect x="459" y="55" width="1" height="5" fill="#ffff00"/>
<rect x="460" y="55" width="1" height="5" fill="#a2ff5d"/>
<rect x="461" y="55" width="1" height="5" fill="#e5ff1a"/>
<rect x="462" y="55" width="1" height="5" fill="#3ed99b"/>
<rect x="464" y="55" width="1" height="5" fill="#3ed99b"/>
<rect x="465" y="55" width="1" height="5" fill="#68ed85"/>
<rect x="466" y="55" width="2" height="5" fill="#04b8b4"/>
<rect x="471" y="55" width="1" height="5" fill="#04b8b4"/>
<rect x="74" y="60" width="2" height="5" fill="#28b88f"/>
<rect x="77" y="60" width="1" height="5" fill="#28b88f"/>
<rect x="79" y="60" width="1" height="5" fill="#e7ff18"/>
<rect x="80" y="60" width="2" height="5" fill="#28b88f"/>
<rect x="82" y="60" width="1" height="5" fill="#ff7700"/>
<rect x="83" y="60" width="1" height="5" fill="#ffdc00"/>
<rect x="85" y="60" width="1" height="5" fill="#ffb200"/>
<rect x="86" y="60" width="1" height="5" fill="#ffcc00"/>
<rect x="87" y="60" width="1" height="5" fill="#ffac00"/>
<rect x="88" y="60" width="1" height="5" fill="#ff3e00"/>
<rect x="89" y="60" width="1" height="5" fill="#ffcc00"/>
<rect x="90" y="60" width="1" height="5" fill="#ffbe00"/>
<rect x="91" y="60" width="1" height="5" fill="#ff8800"/>
<rect x="92" y="60" width="1" height="5" fill="#ffe500"/>
<rect x="93" y="60" width="1" height="5" fill="#ff5500"/>
<rect x="94" y="60" width="1" height="5" fill="#fff000"/>
<rect x="95" y="60" width="1" height="5" fill="#ff8800"/>
<rect x="96" y="60" width="1" height="5" fill="#ffdc00"/>
<rect x="97" y="60" width="1" height="5" fill="#f6ff09"/>
<rect x="98" y="60" width="1" height="5" fill="#28b88f"/>
<rect x="99" y="60" width="2" height="5" fill="#fffb00"/>
<rect x="101" y="60" width="1" height="5" fill="#e7ff18"/>
<rect x="102" y="60" width="1" height="5" fill="#ffa700"/>
<rect x="103" y="60" width="1" height="5" fill="#f6ff09"/>
<rect x="104" y="60" width="1" height="5" fill="#28b88f"/>
<rect x="105" y="60" width="1" height="5" fill="#ffe500"/>
<rect x="106" y="60" width="1" height="5" fill="#f6ff09"/>
<rect x="107" y="60" width="1" height="5" fill="#98ed56"/>
<rect x="110" y="60" width="1" height="5" fill="#28b88f"/>
<rect x="111" y="60" width="1" height="5" fill="#fff000"/>
<rect x="112" y="60" width="1" height="5" fill="#28b88f"/>
<rect x="113" y="60" width="1" height="5" fill="#fffb00"/>
<rect x="114" y="60" width="1" height="5" fill="#98ed56"/>
<rect x="115" y="60" width="1" height="5" fill="#fff000"/>
<rect x="116" y="60" width="1" height="5" fill="#ffac00"/>
<rect x="117" y="60" width="1" height="5" fill="#ffdc00"/>
<rect x="118" y="60" width="2" height="5" fill="#f6ff09"/>
<rect x="120" y="60" width="1" height="5" fill="#bfff40"/>
<rect x="121" y="60" width="1" height="5" fill="#ff7100"/>
<rect x="123" y="60" width="1" height="5" fill="#e7ff18"/>
<rect x="124" y="60" width="1" height="5" fill="#98ed56"/>
<rect x="125" y="60" width="2" height="5" fill="#69d96f"/>
<rect x="127" y="60" width="1" height="5" fill="#28b88f"/>
<rect x="129" y="60" width="2" height="5" fill="#69d96f"/>
<rect x="132" y="60" width="1" height="5" fill="#69d96f"/>
<rect x="136" y="60" width="1" height="5" fill="#28b88f"/>
<rect x="146" y="60" width="1" height="5" fill="#28b88f"/>
<rect x="154" y="60" width="2" height="5" fill="#28b88f"/>
<rect x="168" y="60" width="1" height="5" fill="#28b88f"/>
<rect x="183" y="60" width="1" height="5" fill="#28b88f"/>
<rect x="192" y="60" width="2" height="5" fill="#28b88f"/>
<rect x="195" y="60" width="1" height="5" fill="#28b88f"/>
<rect x="198" y="60" width="1" height="5" fill="#28b88f"/>
<rect x="201" y="60" width="1" height="5" fill="#28b88f"/>
<rect x="209" y="60" width="1" height="5" fill="#28b88f"/>
<rect x="226" y="60" width="1" height="5" fill="#28b88f"/>
<rect x="233" y="60" width="1" height="5" fill="#28b88f"/>
<rect x="237" y="60" width="1" height="5" fill="#28b88f"/>
<rect x="239" y="60" width="1" height="5" fill="#28b88f"/>
<rect x="242" y="60" width="1" height="5" fill="#d5ff2a"/>
<rect x="244" y="60" width="1" height="5" fill="#28b88f"/>
<rect x="246" y="60" width="1" height="5" fill="#69d96f"/>
<rect x="247" y="60" width="1" height="5" fill="#98ed56"/>
<rect x="249" y="60" width="1" height="5" fill="#98ed56"/>
<rect x="252" y="60" width="1" height="5" fill="#ffdc00"/>
<rect x="253" y="60" width="1" height="5" fill="#fffb00"/>
<rect x="254" y="60" width="1" height="5" fill="#ffe500"/>
<rect x="255" y="60" width="1" height="5" fill="#bfff40"/>
<rect x="256" y="60" width="1" height="5" fill="#d5ff2a"/>
<rect x="257" y="60" width="1" height="5" fill="#ffa700"/>
<rect x="258" y="60" width="1" height="5" fill="#ff6e00"/>
<rect x="259" y="60" width="1" height="5" fill="#ffdc00"/>
<rect x="260" y="60" width="1" height="5" fill="#ff8c00"/>
<rect x="261" y="60" width="1" height="5" fill="#ff7e00"/>
<rect x="262" y="60" width="1" height="5" fill="#ff5100"/>
<rect x="263" y="60" width="1" height="5" fill="#f6ff09"/>
<rect x="264" y="60" width="1" height="5" fill="#ff6300"/>
<rect x="265" y="60" width="1" height="5" fill="#ff9d00"/>
<rect x="266" y="60" width="1" height="5" fill="#f10000"/>
<rect x="267" y="60" width="1" height="5" fill="#ffc500"/>
<rect x="268" y="60" width="1" height="5" fill="#ffd400"/>
<rect x="269" y="60" width="1" height="5" fill="#ff3400"/>
<rect x="270" y="60" width="1" height="5" fill="#ff5e00"/>
<rect x="271" y="60" width="1" height="5" fill="#ff6600"/>
<rect x="272" y="60" width="1" height="5" fill="#ffcc00"/>
<rect x="273" y="60" width="1" height="5" fill="#e7ff18"/>
<rect x="274" y="60" width="1" height="5" fill="#ffe500"/>
<rect x="275" y="60" width="1" height="5" fill="#ff2800"/>
<rect x="276" y="60" width="1" height="5" fill="#ff8100"/>
<rect x="277" y="60" width="1" height="5" fill="#ff8800"/>
<rect x="278" y="60" width="1" height="5" fill="#ffb200"/>
<rect x="279" y="60" width="1" height="5" fill="#d5ff2a"/>
<rect x="280" y="60" width="1" height="5" fill="#ffa700"/>
<rect x="281" y="60" width="1" height="5" fill="#ff9900"/>
<rect x="282" y="60" width="1" height="5" fill="#ff9d00"/>
<rect x="283" y="60" width="1" height="5" fill="#ff5c00"/>
<rect x="284" y="60" width="1" height="5" fill="#98ed56"/>
<rect x="285" y="60" width="1" height="5" fill="#ff7700"/>
<rect x="286" y="60" width="1" height="5" fill="#28b88f"/>
<rect x="287" y="60" width="1" height="5" fill="#ffb200"/>
<rect x="288" y="60" width="1" height="5" fill="#ffd400"/>
<rect x="289" y="60" width="1" height="5" fill="#98ed56"/>
<rect x="290" y="60" width="1" height="5" fill="#ffdc00"/>
<rect x="291" y="60" width="1" height="5" fill="#98ed56"/>
<rect x="292" y="60" width="1" height="5" fill="#e7ff18"/>
<rect x="293" y="60" width="1" height="5" fill="#ffb800"/>
<rect x="294" y="60" width="1" height="5" fill="#d5ff2a"/>
<rect x="295" y="60" width="1" height="5" fill="#f6ff09"/>
<rect x="297" y="60" width="1" height="5" fill="#28b88f"/>
<rect x="298" y="60" width="1" height="5" fill="#bfff40"/>
<rect x="300" y="60" width="1" height="5" fill="#98ed56"/>
<rect x="302" y="60" width="2" height="5" fill="#bfff40"/>
<rect x="305" y="60" width="1" height="5" fill="#98ed56"/>
<rect x="306" y="60" width="1" height="5" fill="#f6ff09"/>
<rect x="307" y="60" width="2" height="5" fill="#fffb00"/>
<rect x="310" y="60" width="1" height="5" fill="#bfff40"/>
<rect x="313" y="60" width="1" height="5" fill="#69d96f"/>
<rect x="314" y="60" width="1" height="5" fill="#98ed56"/>
<rect x="315" y="60" width="1" height="5" fill="#bfff40"/>
<rect x="316" y="60" width="1" height="5" fill="#28b88f"/>
<rect x="317" y="60" width="1" height="5" fill="#69d96f"/>
<rect x="318" y="60" width="2" height="5" fill="#bfff40"/>
<rect x="320" y="60" width="1" height="5" fill="#28b88f"/>
<rect x="321" y="60" width="1" height="5" fill="#69d96f"/>
<rect x="322" y="60" width="1" height="5" fill="#d5ff2a"/>
<rect x="323" y="60" width="1" height="5" fill="#69d96f"/>
<rect x="324" y="60" width="1" height="5" fill="#98ed56"/>
<rect x="325" y="60" width="1" height="5" fill="#d5ff2a"/>
<rect x="326" y="60" width="1" height="5" fill="#bfff40"/>
<rect x="327" y="60" width="1" height="5" fill="#28b88f"/>
<rect x="340" y="60" width="1" height="5" fill="#28b88f"/>
<rect x="364" y="60" width="1" height="5" fill="#28b88f"/>
<rect x="368" y="60" width="1" height="5" fill="#28b88f"/>
<rect x="372" y="60" width="1" height="5" fill="#28b88f"/>
<rect x="393" y="60" width="1" height="5" fill="#28b88f"/>
<rect x="400" y="60" width="1" height="5" fill="#28b88f"/>
<rect x="408" y="60" width="2" height="5" fill="#28b88f"/>
<rect x="411" y="60" width="1" height="5" fill="#69d96f"/>
<rect x="415" y="60" width="1" height="5" fill="#69d96f"/>
<rect x="416" y="60" width="1" height="5" fill="#28b88f"/>
<rect x="417" y="60" width="1" height="5" fill="#bfff40"/>
<rect x="418" y="60" width="1" height="5" fill="#28b88f"/>
<rect x="420" y="60" width="1" height="5" fill="#28b88f"/>
<rect x="421" y="60" width="1" height="5" fill="#98ed56"/>
<rect x="423" y="60" width="1" height="5" fill="#28b88f"/>
<rect x="424" y="60" width="1" height="5" fill="#69d96f"/>
<rect x="425" y="60" width="1" height="5" fill="#bfff40"/>
<rect x="426" y="60" width="1" height="5" fill="#28b88f"/>
<rect x="428" y="60" width="1" height="5" fill="#98ed56"/>
<rect x="429" y="60" width="1" height="5" fill="#f6ff09"/>
<rect x="430" y="60" width="1" height="5" fill="#98ed56"/>
<rect x="431" y="60" width="1" height="5" fill="#69d96f"/>
<rect x="432" y="60" width="1" height="5" fill="#f6ff09"/>
<rect x="434" y="60" width="1" height="5" fill="#98ed56"/>
<rect x="435" y="60" width="1" height="5" fill="#ffb200"/>
<rect x="436" y="60" width="1" height="5" fill="#69d96f"/>
<rect x="437" y="60" width="2" height="5" fill="#98ed56"/>
<rect x="439" y="60" width="1" height="5" fill="#28b88f"/>
<rect x="440" y="60" width="1" height="5" fill="#fffb00"/>
<rect x="441" y="60" width="1" height="5" fill="#ffc500"/>
<rect x="442" y="60" width="1" height="5" fill="#bfff40"/>
<rect x="443" y="60" width="1" height="5" fill="#fffb00"/>
<rect x="445" y="60" width="1" height="5" fill="#f6ff09"/>
<rect x="446" y="60" width="1" height="5" fill="#ffdc00"/>
<rect x="447" y="60" width="1" height="5" fill="#69d96f"/>
<rect x="448" y="60" width="1" height="5" fill="#f6ff09"/>
<rect x="449" y="60" width="1" height="5" fill="#28b88f"/>
<rect x="450" y="60" width="1" height="5" fill="#98ed56"/>
<rect x="451" y="60" width="1" height="5" fill="#ff9900"/>
<rect x="452" y="60" width="1" height="5" fill="#69d96f"/>
<rect x="454" y="60" width="1" height="5" fill="#e7ff18"/>
<rect x="455" y="60" width="1" height="5" fill="#ffac00"/>
<rect x="456" y="60" width="1" height="5" fill="#ffbe00"/>
<rect x="457" y="60" width="1" height="5" fill="#e7ff18"/>
<rect x="458" y="60" width="1" height="5" fill="#ffe500"/>
<rect x="459" y="60" width="1" height="5" fill="#fff000"/>
<rect x="460" y="60" width="1" height="5" fill="#f6ff09"/>
<rect x="461" y="60" width="1" height="5" fill="#28b88f"/>
<rect x="462" y="60" width="1" height="5" fill="#69d96f"/>
<rect x="463" y="60" width="1" height="5" fill="#bfff40"/>
<rect x="464" y="60" width="1" height="5" fill="#e7ff18"/>
<rect x="465" y="60" width="2" height="5" fill="#69d96f"/>
<rect x="467" y="60" width="1" height="5" fill="#98ed56"/>
<rect x="469" y="60" width="1" height="5" fill="#28b88f"/>
<rect x="70" y="65" width="2" height="5" fill="#4db86b"/>
<rect x="75" y="65" width="1" height="5" fill="#4db86b"/>
<rect x="76" y="65" width="2" height="5" fill="#95d944"/>
<rect x="78" y="65" width="1" height="5" fill="#4db86b"/>
<rect x="80" y="65" width="1" height="5" fill="#fff600"/>
<rect x="81" y="65" width="1" height="5" fill="#95d944"/>
<rect x="82" y="65" width="1" height="5" fill="#ffa900"/>
<rect x="83" y="65" width="1" height="5" fill="#ff3e00"/>
<rect x="84" y="65" width="1" height="5" fill="#ff7f00"/>
<rect x="85" y="65" width="1" height="5" fill="#fb0000"/>
<rect x="86" y="65" width="1" height="5" fill="#e80000"/>
<rect x="87" y="65" width="1" height="5" fill="#ff3000"/>
<rect x="88" y="65" width="1" height="5" fill="#e90000"/>
<rect x="89" y="65" width="1" height="5" fill="#ff3300"/>
<rect x="90" y="65" width="1" height="5" fill="#ff8500"/>
<rect x="91" y="65" width="1" height="5" fill="#ff1c00"/>
<rect x="92" y="65" width="1" height="5" fill="#ffd500"/>
<rect x="93" y="65" width="1" height="5" fill="#ff5900"/>
<rect x="94" y="65" width="1" height="5" fill="#ff8500"/>
<rect x="95" y="65" width="1" height="5" fill="#ff6600"/>
<rect x="96" y="65" width="1" height="5" fill="#ff6f00"/>
<rect x="97" y="65" width="1" height="5" fill="#ff7f00"/>
<rect x="98" y="65" width="1" height="5" fill="#ffb300"/>
<rect x="99" y="65" width="1" height="5" fill="#ff4400"/>
<rect x="100" y="65" width="1" height="5" fill="#ffc800"/>
<rect x="101" y="65" width="1" height="5" fill="#ff5d00"/>
<rect x="102" y="65" width="1" height="5" fill="#ff4100"/>
<rect x="103" y="65" width="1" height="5" fill="#95d944"/>
<rect x="104" y="65" width="1" height="5" fill="#ffa100"/>
<rect x="105" y="65" width="1" height="5" fill="#ffa900"/>
<rect x="106" y="65" width="1" height="5" fill="#ff9900"/>
<rect x="107" y="65" width="1" height="5" fill="#ffe400"/>
<rect x="110" y="65" width="1" height="5" fill="#4db86b"/>
<rect x="111" y="65" width="1" height="5" fill="#ffe400"/>
<rect x="112" y="65" width="1" height="5" fill="#ff6a00"/>
<rect x="113" y="65" width="2" height="5" fill="#ffc800"/>
<rect x="115" y="65" width="1" height="5" fill="#4db86b"/>
<rect x="116" y="65" width="1" height="5" fill="#ff9200"/>
<rect x="117" y="65" width="1" height="5" fill="#ff7400"/>
<rect x="118" y="65" width="1" height="5" fill="#ffc800"/>
<rect x="119" y="65" width="1" height="5" fill="#ffa900"/>
<rect x="120" y="65" width="1" height="5" fill="#95d944"/>
<rect x="121" y="65" width="1" height="5" fill="#ff8b00"/>
<rect x="122" y="65" width="1" height="5" fill="#4db86b"/>
<rect x="124" y="65" width="1" height="5" fill="#ffbd00"/>
<rect x="125" y="65" width="3" height="5" fill="#4db86b"/>
<rect x="129" y="65" width="1" height="5" fill="#95d944"/>
<rect x="132" y="65" width="1" height="5" fill="#4db86b"/>
<rect x="139" y="65" width="1" height="5" fill="#4db86b"/>
<rect x="143" y="65" width="1" height="5" fill="#4db86b"/>
<rect x="145" y="65" width="1" height="5" fill="#4db86b"/>
<rect x="151" y="65" width="1" height="5" fill="#4db86b"/>
<rect x="161" y="65" width="1" height="5" fill="#4db86b"/>
<rect x="163" y="65" width="1" height="5" fill="#4db86b"/>
<rect x="171" y="65" width="1" height="5" fill="#4db86b"/>
<rect x="176" y="65" width="1" height="5" fill="#4db86b"/>
<rect x="182" y="65" width="1" height="5" fill="#4db86b"/>
<rect x="209" y="65" width="1" height="5" fill="#95d944"/>
<rect x="230" y="65" width="1" height="5" fill="#4db86b"/>
<rect x="234" y="65" width="1" height="5" fill="#4db86b"/>
<rect x="237" y="65" width="1" height="5" fill="#f2ff0d"/>
<rect x="238" y="65" width="1" height="5" fill="#95d944"/>
<rect x="239" y="65" width="1" height="5" fill="#4db86b"/>
<rect x="243" y="65" width="1" height="5" fill="#4db86b"/>
<rect x="247" y="65" width="1" height="5" fill="#f2ff0d"/>
<rect x="248" y="65" width="1" height="5" fill="#4db86b"/>
<rect x="249" y="65" width="2" height="5" fill="#f2ff0d"/>
<rect x="251" y="65" width="1" height="5" fill="#95d944"/>
<rect x="253" y="65" width="1" height="5" fill="#ff9900"/>
<rect x="254" y="65" width="1" height="5" fill="#fff600"/>
<rect x="255" y="65" width="1" height="5" fill="#ff8500"/>
<rect x="256" y="65" width="1" height="5" fill="#ff7f00"/>
<rect x="257" y="65" width="1" height="5" fill="#ff8b00"/>
<rect x="258" y="65" width="1" height="5" fill="#ff6a00"/>
<rect x="259" y="65" width="1" height="5" fill="#ff6600"/>
<rect x="260" y="65" width="1" height="5" fill="#ff7900"/>
<rect x="261" y="65" width="1" height="5" fill="#ff7400"/>
<rect x="262" y="65" width="1" height="5" fill="#f40000"/>
<rect x="263" y="65" width="1" height="5" fill="#ff2000"/>
<rect x="264" y="65" width="1" height="5" fill="#db0000"/>
<rect x="265" y="65" width="1" height="5" fill="#ff2e00"/>
<rect x="266" y="65" width="1" height="5" fill="#f10000"/>
<rect x="268" y="65" width="1" height="5" fill="#ff3800"/>
<rect x="269" y="65" width="1" height="5" fill="#980000"/>
<rect x="270" y="65" width="1" height="5" fill="#ff4100"/>
<rect x="271" y="65" width="1" height="5" fill="#ff6a00"/>
<rect x="272" y="65" width="2" height="5" fill="#ffb300"/>
<rect x="275" y="65" width="1" height="5" fill="#ff1400"/>
<rect x="276" y="65" width="1" height="5" fill="#f00000"/>
<rect x="277" y="65" width="1" height="5" fill="#940000"/>
<rect x="278" y="65" width="1" height="5" fill="#ff6a00"/>
<rect x="279" y="65" width="1" height="5" fill="#ff5200"/>
<rect x="280" y="65" width="1" height="5" fill="#ff7f00"/>
<rect x="281" y="65" width="1" height="5" fill="#ff0e00"/>
<rect x="282" y="65" width="1" height="5" fill="#ff2b00"/>
<rect x="283" y="65" width="1" height="5" fill="#ffbd00"/>
<rect x="284" y="65" width="1" height="5" fill="#ff9200"/>
<rect x="285" y="65" width="1" height="5" fill="#ff8500"/>
<rect x="286" y="65" width="2" height="5" fill="#f2ff0d"/>
<rect x="289" y="65" width="1" height="5" fill="#ff6f00"/>
<rect x="290" y="65" width="1" height="5" fill="#ff7400"/>
<rect x="291" y="65" width="1" height="5" fill="#c7ed26"/>
<rect x="292" y="65" width="1" height="5" fill="#ffa100"/>
<rect x="293" y="65" width="1" height="5" fill="#ff7f00"/>
<rect x="294" y="65" width="1" height="5" fill="#4db86b"/>
<rect x="295" y="65" width="1" height="5" fill="#ffc800"/>
<rect x="298" y="65" width="1" height="5" fill="#ffd500"/>
<rect x="299" y="65" width="1" height="5" fill="#c7ed26"/>
<rect x="300" y="65" width="1" height="5" fill="#f2ff0d"/>
<rect x="302" y="65" width="1" height="5" fill="#ffbd00"/>
<rect x="303" y="65" width="2" height="5" fill="#95d944"/>
<rect x="305" y="65" width="2" height="5" fill="#ffd500"/>
<rect x="307" y="65" width="2" height="5" fill="#4db86b"/>
<rect x="309" y="65" width="1" height="5" fill="#c7ed26"/>
<rect x="311" y="65" width="1" height="5" fill="#4db86b"/>
<rect x="312" y="65" width="1" height="5" fill="#95d944"/>
<rect x="314" y="65" width="1" height="5" fill="#ffe400"/>
<rect x="315" y="65" width="1" height="5" fill="#95d944"/>
<rect x="316" y="65" width="1" height="5" fill="#f2ff0d"/>
<rect x="318" y="65" width="1" height="5" fill="#f2ff0d"/>
<rect x="319" y="65" width="1" height="5" fill="#ffd500"/>
<rect x="321" y="65" width="1" height="5" fill="#c7ed26"/>
<rect x="322" y="65" width="1" height="5" fill="#fff600"/>
<rect x="323" y="65" width="1" height="5" fill="#4db86b"/>
<rect x="324" y="65" width="1" height="5" fill="#ffc800"/>
<rect x="325" y="65" width="1" height="5" fill="#c7ed26"/>
<rect x="326" y="65" width="1" height="5" fill="#95d944"/>
<rect x="327" y="65" width="1" height="5" fill="#fff600"/>
<rect x="328" y="65" width="1" height="5" fill="#4db86b"/>
<rect x="338" y="65" width="1" height="5" fill="#4db86b"/>
<rect x="341" y="65" width="1" height="5" fill="#4db86b"/>
<rect x="346" y="65" width="1" height="5" fill="#4db86b"/>
<rect x="359" y="65" width="1" height="5" fill="#4db86b"/>
<rect x="363" y="65" width="2" height="5" fill="#4db86b"/>
<rect x="370" y="65" width="1" height="5" fill="#4db86b"/>
<rect x="383" y="65" width="1" height="5" fill="#4db86b"/>
<rect x="393" y="65" width="2" height="5" fill="#4db86b"/>
<rect x="399" y="65" width="1" height="5" fill="#4db86b"/>
<rect x="402" y="65" width="1" height="5" fill="#4db86b"/>
<rect x="408" y="65" width="1" height="5" fill="#4db86b"/>
<rect x="411" y="65" width="1" height="5" fill="#4db86b"/>
<rect x="412" y="65" width="1" height="5" fill="#f2ff0d"/>
<rect x="413" y="65" width="2" height="5" fill="#4db86b"/>
<rect x="416" y="65" width="1" height="5" fill="#4db86b"/>
<rect x="417" y="65" width="1" height="5" fill="#f2ff0d"/>
<rect x="426" y="65" width="2" height="5" fill="#95d944"/>
<rect x="428" y="65" width="1" height="5" fill="#ffe400"/>
<rect x="429" y="65" width="1" height="5" fill="#c7ed26"/>
<rect x="430" y="65" width="1" height="5" fill="#4db86b"/>
<rect x="432" y="65" width="1" height="5" fill="#c7ed26"/>
<rect x="434" y="65" width="1" height="5" fill="#ffd500"/>
<rect x="436" y="65" width="1" height="5" fill="#c7ed26"/>
<rect x="437" y="65" width="1" height="5" fill="#4db86b"/>
<rect x="438" y="65" width="1" height="5" fill="#ffc800"/>
<rect x="440" y="65" width="1" height="5" fill="#ffbd00"/>
<rect x="441" y="65" width="1" height="5" fill="#ff9900"/>
<rect x="442" y="65" width="1" height="5" fill="#fff600"/>
<rect x="443" y="65" width="1" height="5" fill="#c7ed26"/>
<rect x="444" y="65" width="1" height="5" fill="#ff4e00"/>
<rect x="445" y="65" width="1" height="5" fill="#ff5200"/>
<rect x="446" y="65" width="2" height="5" fill="#ffa900"/>
<rect x="448" y="65" width="1" height="5" fill="#95d944"/>
<rect x="449" y="65" width="1" height="5" fill="#fff600"/>
<rect x="450" y="65" width="1" height="5" fill="#c7ed26"/>
<rect x="451" y="65" width="1" height="5" fill="#ff4b00"/>
<rect x="452" y="65" width="1" height="5" fill="#f2ff0d"/>
<rect x="454" y="65" width="1" height="5" fill="#f2ff0d"/>
<rect x="455" y="65" width="1" height="5" fill="#ff3600"/>
<rect x="456" y="65" width="1" height="5" fill="#ff8500"/>
<rect x="457" y="65" width="1" height="5" fill="#ffd500"/>
<rect x="458" y="65" width="1" height="5" fill="#ffbd00"/>
<rect x="459" y="65" width="1" height="5" fill="#ffe400"/>
<rect x="460" y="65" width="1" height="5" fill="#ffd500"/>
<rect x="461" y="65" width="1" height="5" fill="#c7ed26"/>
<rect x="462" y="65" width="1" height="5" fill="#4db86b"/>
<rect x="463" y="65" width="1" height="5" fill="#95d944"/>
<rect x="464" y="65" width="1" height="5" fill="#4db86b"/>
<rect x="465" y="65" width="1" height="5" fill="#95d944"/>
<rect x="466" y="65" width="2" height="5" fill="#c7ed26"/>
<rect x="468" y="65" width="1" height="5" fill="#95d944"/>
<rect x="469" y="65" width="1" height="5" fill="#4db86b"/>
<rect x="75" y="70" width="2" height="5" fill="#d1d908"/>
<rect x="77" y="70" width="1" height="5" fill="#81b837"/>
<rect x="79" y="70" width="1" height="5" fill="#81b837"/>
<rect x="80" y="70" width="1" height="5" fill="#d1d908"/>
<rect x="81" y="70" width="1" height="5" fill="#81b837"/>
<rect x="82" y="70" width="1" height="5" fill="#dc0000"/>
<rect x="83" y="70" width="1" height="5" fill="#ff0700"/>
<rect x="84" y="70" width="1" height="5" fill="#ff5200"/>
<rect x="85" y="70" width="1" height="5" fill="#ff3200"/>
<rect x="86" y="70" width="1" height="5" fill="#ff2300"/>
<rect x="87" y="70" width="1" height="5" fill="#ba0000"/>
<rect x="88" y="70" width="1" height="5" fill="#a60000"/>
<rect x="90" y="70" width="1" height="5" fill="#ff0a00"/>
<rect x="91" y="70" width="1" height="5" fill="#e80000"/>
<rect x="92" y="70" width="1" height="5" fill="#ff5200"/>
<rect x="93" y="70" width="1" height="5" fill="#ed0000"/>
<rect x="94" y="70" width="1" height="5" fill="#d1d908"/>
<rect x="95" y="70" width="1" height="5" fill="#ffaf00"/>
<rect x="96" y="70" width="1" height="5" fill="#ff7500"/>
<rect x="97" y="70" width="1" height="5" fill="#e30000"/>
<rect x="98" y="70" width="1" height="5" fill="#ff6b00"/>
<rect x="99" y="70" width="1" height="5" fill="#ff0300"/>
<rect x="100" y="70" width="1" height="5" fill="#ff8e00"/>
<rect x="101" y="70" width="1" height="5" fill="#ff5900"/>
<rect x="102" y="70" width="1" height="5" fill="#ff7500"/>
<rect x="103" y="70" width="1" height="5" fill="#ff9d00"/>
<rect x="104" y="70" width="1" height="5" fill="#ff8100"/>
<rect x="106" y="70" width="1" height="5" fill="#d1d908"/>
<rect x="107" y="70" width="1" height="5" fill="#edd000"/>
<rect x="111" y="70" width="1" height="5" fill="#ff8100"/>
<rect x="112" y="70" width="1" height="5" fill="#edd000"/>
<rect x="113" y="70" width="1" height="5" fill="#ff9d00"/>
<rect x="114" y="70" width="1" height="5" fill="#ff6b00"/>
<rect x="115" y="70" width="1" height="5" fill="#edd000"/>
<rect x="116" y="70" width="1" height="5" fill="#ffaf00"/>
<rect x="117" y="70" width="1" height="5" fill="#d1d908"/>
<rect x="118" y="70" width="1" height="5" fill="#ff5900"/>
<rect x="119" y="70" width="1" height="5" fill="#ff6b00"/>
<rect x="120" y="70" width="1" height="5" fill="#81b837"/>
<rect x="122" y="70" width="2" height="5" fill="#81b837"/>
<rect x="124" y="70" width="1" height="5" fill="#d1d908"/>
<rect x="125" y="70" width="1" height="5" fill="#81b837"/>
<rect x="128" y="70" width="1" height="5" fill="#edd000"/>
<rect x="131" y="70" width="1" height="5" fill="#81b837"/>
<rect x="134" y="70" width="1" height="5" fill="#81b837"/>
<rect x="141" y="70" width="1" height="5" fill="#81b837"/>
<rect x="145" y="70" width="1" height="5" fill="#81b837"/>
<rect x="150" y="70" width="1" height="5" fill="#81b837"/>
<rect x="167" y="70" width="2" height="5" fill="#81b837"/>
<rect x="173" y="70" width="1" height="5" fill="#81b837"/>
<rect x="175" y="70" width="1" height="5" fill="#81b837"/>
<rect x="177" y="70" width="1" height="5" fill="#81b837"/>
<rect x="183" y="70" width="1" height="5" fill="#81b837"/>
<rect x="199" y="70" width="1" height="5" fill="#81b837"/>
<rect x="209" y="70" width="1" height="5" fill="#81b837"/>
<rect x="213" y="70" width="1" height="5" fill="#81b837"/>
<rect x="232" y="70" width="1" height="5" fill="#81b837"/>
<rect x="237" y="70" width="2" height="5" fill="#81b837"/>
<rect x="239" y="70" width="1" height="5" fill="#d1d908"/>
<rect x="241" y="70" width="1" height="5" fill="#d1d908"/>
<rect x="244" y="70" width="1" height="5" fill="#d1d908"/>
<rect x="245" y="70" width="1" height="5" fill="#81b837"/>
<rect x="246" y="70" width="1" height="5" fill="#ff8e00"/>
<rect x="247" y="70" width="2" height="5" fill="#d1d908"/>
<rect x="250" y="70" width="1" height="5" fill="#ffc400"/>
<rect x="252" y="70" width="1" height="5" fill="#ffc400"/>
<rect x="253" y="70" width="1" height="5" fill="#ff1200"/>
<rect x="254" y="70" width="1" height="5" fill="#ff6b00"/>
<rect x="255" y="70" width="1" height="5" fill="#ff7500"/>
<rect x="256" y="70" width="1" height="5" fill="#ff2300"/>
<rect x="257" y="70" width="1" height="5" fill="#ff4400"/>
<rect x="258" y="70" width="1" height="5" fill="#ffc400"/>
<rect x="259" y="70" width="1" height="5" fill="#ff3700"/>
<rect x="260" y="70" width="1" height="5" fill="#f90000"/>
<rect x="261" y="70" width="1" height="5" fill="#bf0000"/>
<rect x="262" y="70" width="1" height="5" fill="#ba0000"/>
<rect x="263" y="70" width="1" height="5" fill="#ff2d00"/>
<rect x="264" y="70" width="1" height="5" fill="#d50000"/>
<rect x="265" y="70" width="1" height="5" fill="#800000"/>
<rect x="266" y="70" width="1" height="5" fill="#950000"/>
<rect x="267" y="70" width="1" height="5" fill="#e50000"/>
<rect x="268" y="70" width="1" height="5" fill="#da0000"/>
<rect x="269" y="70" width="1" height="5" fill="#b40000"/>
<rect x="270" y="70" width="1" height="5" fill="#ff6200"/>
<rect x="271" y="70" width="1" height="5" fill="#ff1e00"/>
<rect x="272" y="70" width="1" height="5" fill="#ff0700"/>
<rect x="273" y="70" width="1" height="5" fill="#ff1200"/>
<rect x="274" y="70" width="1" height="5" fill="#ff0e00"/>
<rect x="275" y="70" width="1" height="5" fill="#ff4400"/>
<rect x="276" y="70" width="1" height="5" fill="#960000"/>
<rect x="277" y="70" width="1" height="5" fill="#af0000"/>
<rect x="278" y="70" width="1" height="5" fill="#800000"/>
<rect x="279" y="70" width="1" height="5" fill="#eb0000"/>
<rect x="280" y="70" width="1" height="5" fill="#800000"/>
<rect x="281" y="70" width="1" height="5" fill="#e10000"/>
<rect x="282" y="70" width="1" height="5" fill="#da0000"/>
<rect x="283" y="70" width="1" height="5" fill="#ff9d00"/>
<rect x="284" y="70" width="1" height="5" fill="#ff0000"/>
<rect x="285" y="70" width="1" height="5" fill="#ff5900"/>
<rect x="287" y="70" width="1" height="5" fill="#ff4400"/>
<rect x="288" y="70" width="1" height="5" fill="#f30000"/>
<rect x="289" y="70" width="1" height="5" fill="#ff6b00"/>
<rect x="290" y="70" width="1" height="5" fill="#f60000"/>
<rect x="291" y="70" width="1" height="5" fill="#81b837"/>
<rect x="292" y="70" width="1" height="5" fill="#ff2800"/>
<rect x="293" y="70" width="1" height="5" fill="#ff5900"/>
<rect x="294" y="70" width="1" height="5" fill="#ff8100"/>
<rect x="295" y="70" width="1" height="5" fill="#ff8e00"/>
<rect x="296" y="70" width="1" height="5" fill="#d1d908"/>
<rect x="297" y="70" width="1" height="5" fill="#ffc400"/>
<rect x="298" y="70" width="1" height="5" fill="#81b837"/>
<rect x="299" y="70" width="1" height="5" fill="#ff9d00"/>
<rect x="300" y="70" width="1" height="5" fill="#ffaf00"/>
<rect x="301" y="70" width="1" height="5" fill="#81b837"/>
<rect x="302" y="70" width="1" height="5" fill="#edd000"/>
<rect x="303" y="70" width="1" height="5" fill="#ffaf00"/>
<rect x="304" y="70" width="1" height="5" fill="#d1d908"/>
<rect x="305" y="70" width="1" height="5" fill="#edd000"/>
<rect x="306" y="70" width="1" height="5" fill="#ff8e00"/>
<rect x="307" y="70" width="1" height="5" fill="#ffaf00"/>
<rect x="308" y="70" width="1" height="5" fill="#d1d908"/>
<rect x="309" y="70" width="1" height="5" fill="#81b837"/>
<rect x="310" y="70" width="1" height="5" fill="#edd000"/>
<rect x="312" y="70" width="1" height="5" fill="#ffaf00"/>
<rect x="313" y="70" width="2" height="5" fill="#edd000"/>
<rect x="315" y="70" width="1" height="5" fill="#81b837"/>
<rect x="316" y="70" width="1" height="5" fill="#d1d908"/>
<rect x="317" y="70" width="2" height="5" fill="#81b837"/>
<rect x="319" y="70" width="1" height="5" fill="#ffaf00"/>
<rect x="321" y="70" width="1" height="5" fill="#edd000"/>
<rect x="322" y="70" width="1" height="5" fill="#d1d908"/>
<rect x="323" y="70" width="1" height="5" fill="#81b837"/>
<rect x="325" y="70" width="2" height="5" fill="#d1d908"/>
<rect x="327" y="70" width="1" height="5" fill="#81b837"/>
<rect x="331" y="70" width="1" height="5" fill="#81b837"/>
<rect x="340" y="70" width="1" height="5" fill="#81b837"/>
<rect x="342" y="70" width="1" height="5" fill="#81b837"/>
<rect x="345" y="70" width="1" height="5" fill="#81b837"/>
<rect x="347" y="70" width="1" height="5" fill="#81b837"/>
<rect x="361" y="70" width="3" height="5" fill="#81b837"/>
<rect x="366" y="70" width="1" height="5" fill="#81b837"/>
<rect x="371" y="70" width="1" height="5" fill="#81b837"/>
<rect x="372" y="70" width="1" height="5" fill="#d1d908"/>
<rect x="376" y="70" width="1" height="5" fill="#81b837"/>
<rect x="379" y="70" width="1" height="5" fill="#81b837"/>
<rect x="387" y="70" width="1" height="5" fill="#81b837"/>
<rect x="389" y="70" width="1" height="5" fill="#d1d908"/>
<rect x="392" y="70" width="1" height="5" fill="#d1d908"/>
<rect x="394" y="70" width="5" height="5" fill="#81b837"/>
<rect x="407" y="70" width="1" height="5" fill="#81b837"/>
<rect x="410" y="70" width="1" height="5" fill="#81b837"/>
<rect x="411" y="70" width="1" height="5" fill="#edd000"/>
<rect x="413" y="70" width="1" height="5" fill="#edd000"/>
<rect x="415" y="70" width="1" height="5" fill="#d1d908"/>
<rect x="417" y="70" width="1" height="5" fill="#edd000"/>
<rect x="418" y="70" width="1" height="5" fill="#81b837"/>
<rect x="420" y="70" width="2" height="5" fill="#81b837"/>
<rect x="424" y="70" width="1" height="5" fill="#d1d908"/>
<rect x="425" y="70" width="1" height="5" fill="#ffaf00"/>
<rect x="426" y="70" width="1" height="5" fill="#edd000"/>
<rect x="427" y="70" width="1" height="5" fill="#81b837"/>
<rect x="428" y="70" width="1" height="5" fill="#ffc400"/>
<rect x="429" y="70" width="1" height="5" fill="#d1d908"/>
<rect x="430" y="70" width="1" height="5" fill="#ffaf00"/>
<rect x="431" y="70" width="1" height="5" fill="#81b837"/>
<rect x="433" y="70" width="1" height="5" fill="#81b837"/>
<rect x="434" y="70" width="1" height="5" fill="#ff9d00"/>
<rect x="435" y="70" width="2" height="5" fill="#ffc400"/>
<rect x="437" y="70" width="1" height="5" fill="#81b837"/>
<rect x="438" y="70" width="1" height="5" fill="#ff8100"/>
<rect x="439" y="70" width="1" height="5" fill="#81b837"/>
<rect x="440" y="70" width="1" height="5" fill="#ff8100"/>
<rect x="441" y="70" width="1" height="5" fill="#ff2d00"/>
<rect x="442" y="70" width="1" height="5" fill="#d1d908"/>
<rect x="443" y="70" width="1" height="5" fill="#ff6b00"/>
<rect x="444" y="70" width="1" height="5" fill="#ff8e00"/>
<rect x="445" y="70" width="1" height="5" fill="#f90000"/>
<rect x="446" y="70" width="1" height="5" fill="#ff2d00"/>
<rect x="447" y="70" width="1" height="5" fill="#edd000"/>
<rect x="448" y="70" width="1" height="5" fill="#ffc400"/>
<rect x="449" y="70" width="1" height="5" fill="#ff7500"/>
<rect x="450" y="70" width="1" height="5" fill="#ff8e00"/>
<rect x="451" y="70" width="1" height="5" fill="#ff3d00"/>
<rect x="452" y="70" width="1" height="5" fill="#ff9d00"/>
<rect x="454" y="70" width="1" height="5" fill="#ff5900"/>
<rect x="456" y="70" width="1" height="5" fill="#ff5200"/>
<rect x="457" y="70" width="1" height="5" fill="#ff0000"/>
<rect x="458" y="70" width="1" height="5" fill="#ffc400"/>
<rect x="459" y="70" width="1" height="5" fill="#ffaf00"/>
<rect x="460" y="70" width="1" height="5" fill="#ff8100"/>
<rect x="461" y="70" width="1" height="5" fill="#ff4a00"/>
<rect x="462" y="70" width="1" height="5" fill="#ffc400"/>
<rect x="463" y="70" width="1" height="5" fill="#d1d908"/>
<rect x="464" y="70" width="1" height="5" fill="#edd000"/>
<rect x="465" y="70" width="1" height="5" fill="#d1d908"/>
<rect x="467" y="70" width="1" height="5" fill="#81b837"/>
<rect x="469" y="70" width="1" height="5" fill="#edd000"/>
<rect x="70" y="75" width="2" height="6" fill="#96b821"/>
<rect x="75" y="75" width="1" height="6" fill="#96b821"/>
<rect x="82" y="75" width="1" height="6" fill="#ff6f00"/>
<rect x="83" y="75" width="2" height="6" fill="#ff9000"/>
<rect x="85" y="75" width="1" height="6" fill="#ff3b00"/>
<rect x="86" y="75" width="1" height="6" fill="#96b821"/>
<rect x="87" y="75" width="1" height="6" fill="#ff2c00"/>
<rect x="88" y="75" width="1" height="6" fill="#ff7e00"/>
<rect x="89" y="75" width="1" height="6" fill="#d9c600"/>
<rect x="91" y="75" width="1" height="6" fill="#ff5700"/>
<rect x="92" y="75" width="1" height="6" fill="#ff9000"/>
<rect x="93" y="75" width="1" height="6" fill="#ffa600"/>
<rect x="94" y="75" width="1" height="6" fill="#96b821"/>
<rect x="95" y="75" width="2" height="6" fill="#ffa600"/>
<rect x="97" y="75" width="1" height="6" fill="#ff3b00"/>
<rect x="98" y="75" width="1" height="6" fill="#ff6200"/>
<rect x="99" y="75" width="1" height="6" fill="#ffa600"/>
<rect x="100" y="75" width="1" height="6" fill="#d9c600"/>
<rect x="101" y="75" width="1" height="6" fill="#96b821"/>
<rect x="102" y="75" width="1" height="6" fill="#edb400"/>
<rect x="103" y="75" width="1" height="6" fill="#96b821"/>
<rect x="105" y="75" width="1" height="6" fill="#d9c600"/>
<rect x="106" y="75" width="1" height="6" fill="#96b821"/>
<rect x="111" y="75" width="1" height="6" fill="#edb400"/>
<rect x="112" y="75" width="1" height="6" fill="#d9c600"/>
<rect x="113" y="75" width="2" height="6" fill="#96b821"/>
<rect x="115" y="75" width="1" height="6" fill="#d9c600"/>
<rect x="116" y="75" width="1" height="6" fill="#96b821"/>
<rect x="117" y="75" width="1" height="6" fill="#d9c600"/>
<rect x="118" y="75" width="1" height="6" fill="#96b821"/>
<rect x="120" y="75" width="2" height="6" fill="#ffa600"/>
<rect x="123" y="75" width="2" height="6" fill="#d9c600"/>
<rect x="125" y="75" width="2" height="6" fill="#96b821"/>
<rect x="131" y="75" width="1" height="6" fill="#d9c600"/>
<rect x="135" y="75" width="1" height="6" fill="#96b821"/>
<rect x="139" y="75" width="1" height="6" fill="#96b821"/>
<rect x="142" y="75" width="1" height="6" fill="#96b821"/>
<rect x="145" y="75" width="1" height="6" fill="#96b821"/>
<rect x="161" y="75" width="1" height="6" fill="#96b821"/>
<rect x="173" y="75" width="1" height="6" fill="#96b821"/>
<rect x="193" y="75" width="1" height="6" fill="#96b821"/>
<rect x="197" y="75" width="1" height="6" fill="#96b821"/>
<rect x="218" y="75" width="1" height="6" fill="#96b821"/>
<rect x="236" y="75" width="1" height="6" fill="#96b821"/>
<rect x="241" y="75" width="1" height="6" fill="#ffa600"/>
<rect x="244" y="75" width="1" height="6" fill="#96b821"/>
<rect x="246" y="75" width="1" height="6" fill="#ff6f00"/>
<rect x="248" y="75" width="2" height="6" fill="#d9c600"/>
<rect x="252" y="75" width="1" height="6" fill="#96b821"/>
<rect x="255" y="75" width="1" height="6" fill="#ffa600"/>
<rect x="257" y="75" width="1" height="6" fill="#edb400"/>
<rect x="258" y="75" width="1" height="6" fill="#ffa600"/>
<rect x="259" y="75" width="1" height="6" fill="#edb400"/>
<rect x="261" y="75" width="1" height="6" fill="#ff6f00"/>
<rect x="262" y="75" width="1" height="6" fill="#ff3b00"/>
<rect x="263" y="75" width="1" height="6" fill="#d9c600"/>
<rect x="264" y="75" width="1" height="6" fill="#ff9000"/>
<rect x="265" y="75" width="1" height="6" fill="#edb400"/>
<rect x="266" y="75" width="1" height="6" fill="#ffa600"/>
<rect x="269" y="75" width="1" height="6" fill="#ff6200"/>
<rect x="270" y="75" width="1" height="6" fill="#96b821"/>
<rect x="271" y="75" width="1" height="6" fill="#edb400"/>
<rect x="272" y="75" width="2" height="6" fill="#96b821"/>
<rect x="274" y="75" width="1" height="6" fill="#ff7e00"/>
<rect x="276" y="75" width="1" height="6" fill="#ff7e00"/>
<rect x="277" y="75" width="1" height="6" fill="#d9c600"/>
<rect x="279" y="75" width="1" height="6" fill="#edb400"/>
<rect x="280" y="75" width="2" height="6" fill="#d9c600"/>
<rect x="282" y="75" width="1" height="6" fill="#ff7e00"/>
<rect x="283" y="75" width="1" height="6" fill="#edb400"/>
<rect x="285" y="75" width="1" height="6" fill="#d9c600"/>
<rect x="287" y="75" width="1" height="6" fill="#96b821"/>
<rect x="288" y="75" width="1" height="6" fill="#d9c600"/>
<rect x="289" y="75" width="1" height="6" fill="#ffa600"/>
<rect x="291" y="75" width="1" height="6" fill="#96b821"/>
<rect x="292" y="75" width="2" height="6" fill="#d9c600"/>
<rect x="294" y="75" width="1" height="6" fill="#96b821"/>
<rect x="295" y="75" width="1" height="6" fill="#edb400"/>
<rect x="296" y="75" width="1" height="6" fill="#96b821"/>
<rect x="297" y="75" width="1" height="6" fill="#d9c600"/>
<rect x="298" y="75" width="1" height="6" fill="#ff6f00"/>
<rect x="299" y="75" width="2" height="6" fill="#d9c600"/>
<rect x="302" y="75" width="1" height="6" fill="#d9c600"/>
<rect x="303" y="75" width="1" height="6" fill="#ff6f00"/>
<rect x="304" y="75" width="1" height="6" fill="#ffa600"/>
<rect x="305" y="75" width="4" height="6" fill="#d9c600"/>
<rect x="312" y="75" width="3" height="6" fill="#96b821"/>
<rect x="316" y="75" width="1" height="6" fill="#96b821"/>
<rect x="318" y="75" width="2" height="6" fill="#96b821"/>
<rect x="320" y="75" width="1" height="6" fill="#d9c600"/>
<rect x="321" y="75" width="1" height="6" fill="#96b821"/>
<rect x="325" y="75" width="1" height="6" fill="#d9c600"/>
<rect x="336" y="75" width="1" height="6" fill="#96b821"/>
<rect x="343" y="75" width="1" height="6" fill="#96b821"/>
<rect x="345" y="75" width="1" height="6" fill="#96b821"/>
<rect x="348" y="75" width="2" height="6" fill="#96b821"/>
<rect x="352" y="75" width="1" height="6" fill="#d9c600"/>
<rect x="360" y="75" width="2" height="6" fill="#d9c600"/>
<rect x="372" y="75" width="1" height="6" fill="#d9c600"/>
<rect x="381" y="75" width="1" height="6" fill="#96b821"/>
<rect x="386" y="75" width="1" height="6" fill="#96b821"/>
<rect x="392" y="75" width="1" height="6" fill="#96b821"/>
<rect x="401" y="75" width="1" height="6" fill="#96b821"/>
<rect x="404" y="75" width="1" height="6" fill="#96b821"/>
<rect x="408" y="75" width="2" height="6" fill="#96b821"/>
<rect x="420" y="75" width="1" height="6" fill="#edb400"/>
<rect x="422" y="75" width="1" height="6" fill="#96b821"/>
<rect x="424" y="75" width="1" height="6" fill="#edb400"/>
<rect x="425" y="75" width="3" height="6" fill="#96b821"/>
<rect x="428" y="75" width="1" height="6" fill="#d9c600"/>
<rect x="431" y="75" width="1" height="6" fill="#96b821"/>
<rect x="433" y="75" width="1" height="6" fill="#d9c600"/>
<rect x="435" y="75" width="1" height="6" fill="#edb400"/>
<rect x="436" y="75" width="1" height="6" fill="#96b821"/>
<rect x="438" y="75" width="2" height="6" fill="#96b821"/>
<rect x="440" y="75" width="1" height="6" fill="#edb400"/>
<rect x="441" y="75" width="2" height="6" fill="#ffa600"/>
<rect x="443" y="75" width="1" height="6" fill="#d9c600"/>
<rect x="444" y="75" width="1" height="6" fill="#96b821"/>
<rect x="445" y="75" width="1" height="6" fill="#edb400"/>
<rect x="446" y="75" width="1" height="6" fill="#ff7e00"/>
<rect x="448" y="75" width="1" height="6" fill="#ffa600"/>
<rect x="449" y="75" width="1" height="6" fill="#edb400"/>
<rect x="450" y="75" width="1" height="6" fill="#d9c600"/>
<rect x="451" y="75" width="1" height="6" fill="#ff9000"/>
<rect x="452" y="75" width="2" height="6" fill="#96b821"/>
<rect x="455" y="75" width="1" height="6" fill="#ff7e00"/>
<rect x="456" y="75" width="1" height="6" fill="#d9c600"/>
<rect x="458" y="75" width="2" height="6" fill="#edb400"/>
<rect x="460" y="75" width="1" height="6" fill="#ff6200"/>
<rect x="461" y="75" width="1" height="6" fill="#ff7e00"/>
<rect x="463" y="75" width="1" height="6" fill="#d9c600"/>
</g></g>
<rect x="478.9" y="16.8" width="12.4" height="64.7" fill="#000"/>
<rect x="480.5" y="18.8" width="8.4" height="61.2" fill="url(#jet2)"/>
<line x1="487.4" x2="489.5" y1="30.2" y2="30.2" stroke="#000" stroke-width="1.3"/>
<text x="493.6" y="33.7" font-size="10.2">10<tspan dy="-4.6" font-size="7.6">-1</tspan></text>
<line x1="487.4" x2="489.5" y1="44.4" y2="44.4" stroke="#000" stroke-width="1.3"/>
<text x="493.6" y="47.9" font-size="10.2">10<tspan dy="-4.6" font-size="7.6">-2</tspan></text>
<line x1="487.4" x2="489.5" y1="58.4" y2="58.4" stroke="#000" stroke-width="1.3"/>
<text x="493.6" y="61.9" font-size="10.2">10<tspan dy="-4.6" font-size="7.6">-3</tspan></text>
<line x1="487.4" x2="489.5" y1="72.6" y2="72.6" stroke="#000" stroke-width="1.3"/>
<text x="493.6" y="76.1" font-size="10.2">10<tspan dy="-4.6" font-size="7.6">-4</tspan></text>
<line x1="475.7" x2="475.7" y1="19" y2="56" stroke="#8a8a8a" stroke-width="1.4" stroke-dasharray="0.9,0.4"/>
<line x1="475.7" x2="475.7" y1="124.5" y2="159.5" stroke="#8a8a8a" stroke-width="1.4" stroke-dasharray="0.9,0.4"/>
<text x="93.6" y="14.5" font-size="14.7" text-anchor="middle" >E6</text>
<text x="267" y="14.5" font-size="14.7" text-anchor="middle" >E7</text>
<text x="449" y="14.5" font-size="14.7" text-anchor="middle" >E8</text>
<text x="119" y="97.4" font-size="12.9" text-anchor="middle" >150</text>
<text x="185.7" y="97.4" font-size="12.9" text-anchor="middle" >160</text>
<text x="252.5" y="97.4" font-size="12.9" text-anchor="middle" >170</text>
<text x="319.6" y="97.4" font-size="12.9" text-anchor="middle" >180</text>
<text x="386.2" y="97.4" font-size="12.9" text-anchor="middle" >190</text>
<text x="453.3" y="97.4" font-size="12.9" text-anchor="middle" >200</text>
<text x="269.7" y="111.3" font-size="13.1" text-anchor="middle" >DOY 2019</text>
<text x="62.2" y="78.7" font-size="12.7" text-anchor="end">10<tspan dy="-5.6" font-size="9">0</tspan></text>
<text transform="translate(10.3,47.0) rotate(-90)" font-size="12.7" text-anchor="middle">Energy</text>
<text transform="translate(32.6,45.5) rotate(-90)" font-size="13.2" text-anchor="middle">(MeV)</text>
<text transform="translate(535,71.3) rotate(-90)" font-size="12.5">H<tspan dy="-4.5" font-size="8">+</tspan></text><text transform="translate(535,54.5) rotate(-90)" font-size="12.3">Flux</text>
<text transform="translate(556.5,101.9) rotate(-90)" font-size="11.8" textLength="102.3" lengthAdjust="spacing">(cm<tspan dy="-4.6" font-size="7.8">-2</tspan><tspan dy="4.6">sr</tspan><tspan dy="-4.6" font-size="7.8">-1</tspan><tspan dy="4.6"> s</tspan><tspan dy="-4.6" font-size="7.8">-1</tspan><tspan dy="4.6"> MeV</tspan><tspan dy="-4.6" font-size="7.8">-1</tspan><tspan dy="4.6">)</tspan></text>
<clipPath id="pc"><rect x="65.0" y="123.35" width="409.0" height="231.45000000000002"/></clipPath>
<g stroke-width="3.5" stroke-linecap="butt" fill="none" clip-path="url(#pc)">
<path d="M65.20 145.76L67.44 146.13" stroke="#76ff89" stroke-linecap="round"/>
<path d="M66.96 146.05L69.44 146.46" stroke="#3dffc2"/>
<path d="M68.96 146.38L71.45 146.81" stroke="#32ffcd"/>
<path d="M70.97 146.73L73.45 147.16" stroke="#00fbff"/>
<path d="M72.97 147.08L75.45 147.52" stroke="#20ffdf"/>
<path d="M74.97 147.43L77.45 147.89" stroke="#00cfff"/>
<path d="M76.97 147.80L79.45 148.26" stroke="#37ffc8"/>
<path d="M78.97 148.17L81.46 148.65" stroke="#00f6ff"/>
<path d="M80.98 148.56L83.46 149.04" stroke="#12ffed"/>
<path d="M82.98 148.94L85.46 149.44" stroke="#00afff"/>
<path d="M84.98 149.34L87.46 149.84" stroke="#2fffd0"/>
<path d="M86.98 149.74L89.46 150.26" stroke="#0080ff"/>
<path d="M88.98 150.16L91.47 150.68" stroke="#02fffd"/>
<path d="M90.99 150.57L93.47 151.10" stroke="#00ffff"/>
<path d="M92.99 151.00L95.47 151.54" stroke="#27ffd8"/>
<path d="M94.99 151.44L97.47 151.98" stroke="#00edff"/>
<path d="M96.99 151.88L99.47 152.44" stroke="#06fff9"/>
<path d="M98.99 152.33L101.48 152.90" stroke="#00f3ff"/>
<path d="M101.00 152.78L103.48 153.36" stroke="#0bfff4"/>
<path d="M103.00 153.25L105.48 153.84" stroke="#19ffe6"/>
<path d="M105.00 153.72L107.48 154.32" stroke="#00edff"/>
<path d="M107.00 154.20L109.48 154.81" stroke="#27ffd8"/>
<path d="M109.00 154.69L111.49 155.31" stroke="#0000c7"/>
<path d="M111.00 155.19L113.49 155.81" stroke="#17ffe8"/>
<path d="M113.01 155.69L115.49 156.32" stroke="#21ffde"/>
<path d="M115.01 156.20L117.49 156.84" stroke="#00f8ff"/>
<path d="M117.01 156.72L119.49 157.37" stroke="#07fff8"/>
<path d="M119.01 157.24L121.50 157.91" stroke="#009aff"/>
<path d="M121.01 157.78L123.50 158.45" stroke="#03fffc"/>
<path d="M123.02 158.32L125.50 159.00" stroke="#18ffe7"/>
<path d="M125.02 158.87L127.50 159.56" stroke="#0000db"/>
<path d="M127.02 159.42L129.50 160.12" stroke="#11ffee"/>
<path d="M129.02 159.99L131.50 160.70" stroke="#3effc1"/>
<path d="M131.02 160.56L133.51 161.28" stroke="#4bffb4"/>
<path d="M133.03 161.14L135.51 161.87" stroke="#50ffaf"/>
<path d="M135.03 161.72L137.51 162.46" stroke="#61ff9e"/>
<path d="M137.03 162.32L139.51 163.07" stroke="#34ffcb"/>
<path d="M139.03 162.92L141.51 163.68" stroke="#008fff"/>
<path d="M141.03 163.53L143.52 164.30" stroke="#3affc5"/>
<path d="M143.04 164.15L145.52 164.92" stroke="#22ffdd"/>
<path d="M145.04 164.77L147.52 165.56" stroke="#00b1ff"/>
<path d="M147.04 165.40L149.52 166.20" stroke="#00f8ff"/>
<path d="M149.04 166.05L151.52 166.85" stroke="#00fbff"/>
<path d="M151.04 166.69L153.53 167.51" stroke="#3affc5"/>
<path d="M153.05 167.35L155.53 168.17" stroke="#11ffee"/>
<path d="M155.05 168.01L157.53 168.84" stroke="#00feff"/>
<path d="M157.05 168.68L159.53 169.52" stroke="#14ffeb"/>
<path d="M159.05 169.36L161.53 170.21" stroke="#45ffba"/>
<path d="M161.05 170.05L163.54 170.91" stroke="#12ffed"/>
<path d="M163.06 170.74L165.54 171.61" stroke="#1fffe0"/>
<path d="M165.06 171.44L167.54 172.32" stroke="#17ffe8"/>
<path d="M167.06 172.15L169.54 173.04" stroke="#06fff9"/>
<path d="M169.06 172.87L171.54 173.77" stroke="#00f1ff"/>
<path d="M171.06 173.59L173.55 174.50" stroke="#06fff9"/>
<path d="M173.07 174.32L175.55 175.24" stroke="#0afff5"/>
<path d="M175.07 175.06L177.55 175.99" stroke="#1effe1"/>
<path d="M177.07 175.81L179.55 176.74" stroke="#25ffda"/>
<path d="M179.07 176.56L181.55 177.51" stroke="#27ffd8"/>
<path d="M181.07 177.32L183.56 178.28" stroke="#17ffe8"/>
<path d="M183.08 178.09L185.56 179.06" stroke="#26ffd9"/>
<path d="M185.08 178.87L187.56 179.85" stroke="#00fbff"/>
<path d="M187.08 179.66L189.56 180.64" stroke="#2fffd0"/>
<path d="M189.08 180.45L191.56 181.44" stroke="#1cffe3"/>
<path d="M191.08 181.25L193.57 182.25" stroke="#08fff7"/>
<path d="M193.09 182.06L195.57 183.07" stroke="#1cffe3"/>
<path d="M195.09 182.87L197.57 183.89" stroke="#0dfff2"/>
<path d="M197.09 183.70L199.57 184.73" stroke="#2effd1"/>
<path d="M199.09 184.53L201.57 185.57" stroke="#3effc1"/>
<path d="M201.09 185.37L203.58 186.42" stroke="#51ffae"/>
<path d="M203.10 186.21L205.58 187.27" stroke="#00f5ff"/>
<path d="M205.10 187.06L207.58 188.13" stroke="#00f4ff"/>
<path d="M207.10 187.93L209.58 189.00" stroke="#0dfff2"/>
<path d="M209.10 188.79L211.58 189.88" stroke="#1effe1"/>
<path d="M211.10 189.67L213.59 190.77" stroke="#30ffcf"/>
<path d="M213.10 190.56L215.59 191.66" stroke="#0000fa"/>
<path d="M215.11 191.45L217.59 192.56" stroke="#00e5ff"/>
<path d="M217.11 192.35L219.59 193.47" stroke="#12ffed"/>
<path d="M219.11 193.25L221.59 194.39" stroke="#2fffd0"/>
<path d="M221.11 194.17L223.60 195.31" stroke="#1fffe0"/>
<path d="M223.11 195.09L225.60 196.24" stroke="#2dffd2"/>
<path d="M225.12 196.02L227.60 197.18" stroke="#14ffeb"/>
<path d="M227.12 196.96L229.60 198.13" stroke="#14ffeb"/>
<path d="M229.12 197.90L231.60 199.08" stroke="#2affd5"/>
<path d="M231.12 198.86L233.60 200.05" stroke="#55ffaa"/>
<path d="M233.12 199.82L235.61 201.02" stroke="#5cffa3"/>
<path d="M235.13 200.78L237.61 201.99" stroke="#6cff93"/>
<path d="M237.13 201.76L239.61 202.98" stroke="#a1ff5e"/>
<path d="M239.13 202.74L241.61 203.97" stroke="#fff800"/>
<path d="M241.13 203.73L243.61 204.97" stroke="#ffed00"/>
<path d="M243.13 204.73L245.62 205.98" stroke="#ffbe00"/>
<path d="M245.14 205.74L247.62 207.00" stroke="#ff8000"/>
<path d="M247.14 206.75L249.62 208.02" stroke="#ff9900"/>
<path d="M249.14 207.77L251.62 209.05" stroke="#ffe500"/>
<path d="M251.14 208.80L253.62 210.09" stroke="#feff01"/>
<path d="M253.14 209.84L255.63 211.13" stroke="#ffd100"/>
<path d="M255.15 210.88L257.63 212.19" stroke="#ffb100"/>
<path d="M257.15 211.93L259.63 213.25" stroke="#ffe400"/>
<path d="M259.15 212.99L261.63 214.32" stroke="#ffef00"/>
<path d="M261.15 214.06L263.63 215.39" stroke="#feff01"/>
<path d="M263.15 215.13L265.64 216.48" stroke="#ffbd00"/>
<path d="M265.16 216.22L267.64 217.57" stroke="#ff7900"/>
<path d="M267.16 217.31L269.64 218.67" stroke="#ff6a00"/>
<path d="M269.16 218.40L271.64 219.78" stroke="#c7ff38"/>
<path d="M271.16 219.51L273.64 220.89" stroke="#8fff70"/>
<path d="M273.16 220.62L275.65 222.01" stroke="#64ff9b"/>
<path d="M275.17 221.74L277.65 223.14" stroke="#a0ff5f"/>
<path d="M277.17 222.87L279.65 224.28" stroke="#fff900"/>
<path d="M279.17 224.01L281.65 225.42" stroke="#f6ff09"/>
<path d="M281.17 225.15L283.65 226.58" stroke="#fff600"/>
<path d="M283.17 226.30L285.66 227.74" stroke="#ffce00"/>
<path d="M285.18 227.46L287.66 228.91" stroke="#ff9000"/>
<path d="M287.18 228.62L289.66 230.08" stroke="#ff5100"/>
<path d="M289.18 229.80L291.66 231.26" stroke="#ff6800"/>
<path d="M291.18 230.98L293.66 232.46" stroke="#ffa000"/>
<path d="M293.18 232.17L295.67 233.65" stroke="#ff8100"/>
<path d="M295.19 233.37L297.67 234.86" stroke="#ff9b00"/>
<path d="M297.19 234.57L299.67 236.07" stroke="#ff4900"/>
<path d="M299.19 235.78L301.67 237.29" stroke="#ff6100"/>
<path d="M301.19 237.00L303.67 238.52" stroke="#ff1c00"/>
<path d="M303.19 238.23L305.68 239.76" stroke="#ff2800"/>
<path d="M305.20 239.46L307.68 241.00" stroke="#ff2000"/>
<path d="M307.20 240.71L309.68 242.26" stroke="#ff2d00"/>
<path d="M309.20 241.96L311.68 243.52" stroke="#f80000"/>
<path d="M311.20 243.21L313.68 244.78" stroke="#e60000"/>
<path d="M313.20 244.48L315.69 246.06" stroke="#ff4500"/>
<path d="M315.20 245.75L317.69 247.34" stroke="#e90000"/>
<path d="M317.21 247.03L319.69 248.63" stroke="#db0000"/>
<path d="M319.21 248.32L321.69 249.93" stroke="#fb0000"/>
<path d="M321.21 249.61L323.69 251.23" stroke="#ff2400"/>
<path d="M323.21 250.92L325.70 252.54" stroke="#ee0000"/>
<path d="M325.21 252.23L327.70 253.87" stroke="#ff0a00"/>
<path d="M327.22 253.55L329.70 255.19" stroke="#fd0000"/>
<path d="M329.22 254.87L331.70 256.53" stroke="#ca0000"/>
<path d="M331.22 256.21L333.70 257.87" stroke="#860000"/>
<path d="M333.22 257.55L335.70 259.22" stroke="#c50000"/>
<path d="M335.22 258.90L337.71 260.58" stroke="#ffba00"/>
<path d="M337.23 260.25L339.71 261.95" stroke="#fffb00"/>
<path d="M339.23 261.62L341.71 263.32" stroke="#8fff70"/>
<path d="M341.23 262.99L343.71 264.70" stroke="#a8ff57"/>
<path d="M343.23 264.37L345.71 266.09" stroke="#95ff6a"/>
<path d="M345.23 265.76L347.72 267.49" stroke="#8fff70"/>
<path d="M347.24 267.15L349.72 268.89" stroke="#9cff63"/>
<path d="M349.24 268.55L351.72 270.30" stroke="#d3ff2c"/>
<path d="M351.24 269.96L353.72 271.72" stroke="#daff25"/>
<path d="M353.24 271.38L355.72 273.15" stroke="#d4ff2b"/>
<path d="M355.24 272.81L357.73 274.59" stroke="#b8ff47"/>
<path d="M357.25 274.24L359.73 276.03" stroke="#7fff80"/>
<path d="M359.25 275.68L361.73 277.48" stroke="#7bff84"/>
<path d="M361.25 277.13L363.73 278.94" stroke="#71ff8e"/>
<path d="M363.25 278.59L365.73 280.40" stroke="#6cff93"/>
<path d="M365.25 280.05L367.74 281.87" stroke="#008cff"/>
<path d="M367.26 281.52L369.74 283.35" stroke="#00daff"/>
<path d="M369.26 283.00L371.50 284.66" stroke="#34ffcb" stroke-linecap="round"/>
<path d="M65.20 201.06L67.44 200.04" stroke="#00ffff" stroke-linecap="round"/>
<path d="M66.96 200.26L69.45 199.14" stroke="#09fff6"/>
<path d="M68.97 199.36L71.45 198.25" stroke="#00d3ff"/>
<path d="M70.97 198.46L73.45 197.37" stroke="#34ffcb"/>
<path d="M72.97 197.58L75.46 196.49" stroke="#00baff"/>
<path d="M74.97 196.70L77.46 195.61" stroke="#006dff"/>
<path d="M76.98 195.82L79.46 194.74" stroke="#008fff"/>
<path d="M78.98 194.95L81.46 193.88" stroke="#00c8ff"/>
<path d="M80.98 194.09L83.47 193.03" stroke="#00eeff"/>
<path d="M82.99 193.23L85.47 192.18" stroke="#00f2ff"/>
<path d="M84.99 192.38L87.47 191.34" stroke="#18ffe7"/>
<path d="M86.99 191.54L89.48 190.50" stroke="#45ffba"/>
<path d="M88.99 190.70L91.48 189.67" stroke="#00efff"/>
<path d="M91.00 189.87L93.48 188.85" stroke="#007fff"/>
<path d="M93.00 189.04L95.48 188.03" stroke="#008dff"/>
<path d="M95.00 188.22L97.49 187.22" stroke="#0070ff"/>
<path d="M97.01 187.41L99.49 186.41" stroke="#009bff"/>
<path d="M99.01 186.60L101.49 185.61" stroke="#0dfff2"/>
<path d="M101.01 185.80L103.50 184.82" stroke="#00f6ff"/>
<path d="M103.02 185.01L105.50 184.03" stroke="#0afff5"/>
<path d="M105.02 184.22L107.50 183.25" stroke="#00f3ff"/>
<path d="M107.02 183.44L109.51 182.48" stroke="#06fff9"/>
<path d="M109.02 182.66L111.51 181.71" stroke="#11ffee"/>
<path d="M111.03 181.89L113.51 180.95" stroke="#00f0ff"/>
<path d="M113.03 181.13L115.51 180.19" stroke="#0000c7"/>
<path d="M115.03 180.37L117.52 179.44" stroke="#04fffb"/>
<path d="M117.04 179.62L119.52 178.70" stroke="#00e6ff"/>
<path d="M119.04 178.88L121.52 177.96" stroke="#009dff"/>
<path d="M121.04 178.14L123.53 177.23" stroke="#0084ff"/>
<path d="M123.04 177.40L125.53 176.50" stroke="#00a4ff"/>
<path d="M125.05 176.68L127.53 175.79" stroke="#00a1ff"/>
<path d="M127.05 175.96L129.53 175.07" stroke="#00e1ff"/>
<path d="M129.05 175.24L131.54 174.37" stroke="#006aff"/>
<path d="M131.06 174.54L133.54 173.67" stroke="#00abff"/>
<path d="M133.06 173.83L135.54 172.97" stroke="#00c6ff"/>
<path d="M135.06 173.14L137.55 172.29" stroke="#1effe1"/>
<path d="M137.07 172.45L139.55 171.60" stroke="#1cffe3"/>
<path d="M139.07 171.77L141.55 170.93" stroke="#00f9ff"/>
<path d="M141.07 171.09L143.56 170.26" stroke="#0ffff0"/>
<path d="M143.07 170.42L145.56 169.60" stroke="#1dffe2"/>
<path d="M145.08 169.76L147.56 168.94" stroke="#07fff8"/>
<path d="M147.08 169.10L149.56 168.29" stroke="#23ffdc"/>
<path d="M149.08 168.45L151.57 167.65" stroke="#00dfff"/>
<path d="M151.09 167.80L153.57 167.01" stroke="#3bffc4"/>
<path d="M153.09 167.16L155.57 166.38" stroke="#35ffca"/>
<path d="M155.09 166.53L157.58 165.75" stroke="#07fff8"/>
<path d="M157.09 165.90L159.58 165.13" stroke="#1fffe0"/>
<path d="M159.10 165.28L161.58 164.52" stroke="#11ffee"/>
<path d="M161.10 164.66L163.58 163.91" stroke="#00f9ff"/>
<path d="M163.10 164.06L165.59 163.31" stroke="#12ffed"/>
<path d="M165.11 163.45L167.59 162.72" stroke="#29ffd6"/>
<path d="M167.11 162.86L169.59 162.13" stroke="#00eaff"/>
<path d="M169.11 162.27L171.60 161.54" stroke="#009bff"/>
<path d="M171.12 161.68L173.60 160.97" stroke="#0088ff"/>
<path d="M173.12 161.11L175.60 160.40" stroke="#00acff"/>
<path d="M175.12 160.54L177.61 159.84" stroke="#008cff"/>
<path d="M177.12 159.97L179.61 159.28" stroke="#007aff"/>
<path d="M179.13 159.41L181.61 158.73" stroke="#00b7ff"/>
<path d="M181.13 158.86L183.61 158.18" stroke="#13ffec"/>
<path d="M183.13 158.31L185.62 157.64" stroke="#00feff"/>
<path d="M185.14 157.77L187.62 157.11" stroke="#23ffdc"/>
<path d="M187.14 157.24L189.62 156.58" stroke="#2bffd4"/>
<path d="M189.14 156.71L191.63 156.06" stroke="#49ffb6"/>
<path d="M191.14 156.19L193.63 155.55" stroke="#a8ff57"/>
<path d="M193.15 155.67L195.63 155.04" stroke="#adff52"/>
<path d="M195.15 155.16L197.63 154.54" stroke="#ffad00"/>
<path d="M197.15 154.66L199.64 154.04" stroke="#ffc800"/>
<path d="M199.16 154.16L201.64 153.56" stroke="#9cff63"/>
<path d="M201.16 153.67L203.64 153.07" stroke="#a1ff5e"/>
<path d="M203.16 153.19L205.65 152.60" stroke="#a7ff58"/>
<path d="M205.17 152.71L207.65 152.13" stroke="#9cff63"/>
<path d="M207.17 152.24L209.65 151.66" stroke="#fff300"/>
<path d="M209.17 151.77L211.66 151.20" stroke="#fff900"/>
<path d="M211.17 151.31L213.66 150.75" stroke="#ffee00"/>
<path d="M213.18 150.86L215.66 150.30" stroke="#f2ff0d"/>
<path d="M215.18 150.41L217.66 149.87" stroke="#ffc700"/>
<path d="M217.18 149.97L219.67 149.43" stroke="#caff35"/>
<path d="M219.19 149.54L221.67 149.00" stroke="#fff200"/>
<path d="M221.19 149.11L223.67 148.58" stroke="#ffde00"/>
<path d="M223.19 148.68L225.68 148.17" stroke="#fbff04"/>
<path d="M225.19 148.27L227.68 147.76" stroke="#ff7200"/>
<path d="M227.20 147.86L229.68 147.36" stroke="#ff4e00"/>
<path d="M229.20 147.45L231.68 146.96" stroke="#ff5000"/>
<path d="M231.20 147.06L233.69 146.57" stroke="#ff8f00"/>
<path d="M233.21 146.66L235.69 146.19" stroke="#ffd100"/>
<path d="M235.21 146.28L237.69 145.81" stroke="#ffea00"/>
<path d="M237.21 145.90L239.70 145.44" stroke="#ffa400"/>
<path d="M239.22 145.53L241.70 145.07" stroke="#ffa800"/>
<path d="M241.22 145.16L243.70 144.71" stroke="#ffd300"/>
<path d="M243.22 144.80L245.71 144.36" stroke="#ffbe00"/>
<path d="M245.22 144.45L247.71 144.02" stroke="#ffbd00"/>
<path d="M247.23 144.10L249.71 143.67" stroke="#ffbd00"/>
<path d="M249.23 143.76L251.71 143.34" stroke="#ffd200"/>
<path d="M251.23 143.42L253.72 143.01" stroke="#ffb700"/>
<path d="M253.24 143.09L255.72 142.69" stroke="#f6ff09"/>
<path d="M255.24 142.77L257.72 142.38" stroke="#ffb500"/>
<path d="M257.24 142.45L259.73 142.07" stroke="#ffa100"/>
<path d="M259.24 142.14L261.73 141.76" stroke="#ffa400"/>
<path d="M261.25 141.83L263.73 141.47" stroke="#ff8c00"/>
<path d="M263.25 141.54L265.73 141.17" stroke="#f3ff0c"/>
<path d="M265.25 141.24L267.74 140.89" stroke="#ffbe00"/>
<path d="M267.26 140.96L269.74 140.61" stroke="#ffd100"/>
<path d="M269.26 140.68L271.74 140.34" stroke="#ffcf00"/>
<path d="M271.26 140.40L273.75 140.07" stroke="#ff2d00"/>
<path d="M273.27 140.14L275.75 139.81" stroke="#ff1700"/>
<path d="M275.27 139.88L277.75 139.56" stroke="#cc0000"/>
<path d="M277.27 139.62L279.76 139.31" stroke="#df0000"/>
<path d="M279.27 139.37L281.76 139.07" stroke="#ff0400"/>
<path d="M281.28 139.13L283.76 138.84" stroke="#ff2200"/>
<path d="M283.28 138.89L285.76 138.61" stroke="#ff0800"/>
<path d="M285.28 138.66L287.77 138.39" stroke="#bd0000"/>
<path d="M287.29 138.44L289.77 138.17" stroke="#ac0000"/>
<path d="M289.29 138.22L291.77 137.96" stroke="#b50000"/>
<path d="M291.29 138.01L293.78 137.75" stroke="#ad0000"/>
<path d="M293.29 137.80L295.78 137.56" stroke="#a50000"/>
<path d="M295.30 137.60L297.78 137.37" stroke="#ab0000"/>
<path d="M297.30 137.41L299.78 137.18" stroke="#b00000"/>
<path d="M299.30 137.22L301.79 137.00" stroke="#b60000"/>
<path d="M301.31 137.04L303.79 136.83" stroke="#800000"/>
<path d="M303.31 136.87L305.79 136.66" stroke="#f70000"/>
<path d="M305.31 136.70L307.80 136.50" stroke="#ff8500"/>
<path d="M307.32 136.54L309.80 136.35" stroke="#ff7200"/>
<path d="M309.32 136.38L311.80 136.20" stroke="#ff2400"/>
<path d="M311.32 136.23L313.81 136.06" stroke="#ef0000"/>
<path d="M313.32 136.09L315.81 135.92" stroke="#e60000"/>
<path d="M315.33 135.95L317.81 135.79" stroke="#c70000"/>
<path d="M317.33 135.82L319.81 135.67" stroke="#9d0000"/>
<path d="M319.33 135.70L321.82 135.55" stroke="#b70000"/>
<path d="M321.34 135.58L323.82 135.44" stroke="#820000"/>
<path d="M323.34 135.47L325.82 135.33" stroke="#cb0000"/>
<path d="M325.34 135.36L327.83 135.24" stroke="#a10000"/>
<path d="M327.34 135.26L329.83 135.14" stroke="#ab0000"/>
<path d="M329.35 135.16L331.83 135.06" stroke="#cc0000"/>
<path d="M331.35 135.08L333.83 134.98" stroke="#d80000"/>
<path d="M333.35 135.00L335.84 134.90" stroke="#ff0000"/>
<path d="M335.36 134.92L337.84 134.84" stroke="#e00000"/>
<path d="M337.36 134.85L339.84 134.77" stroke="#ff3900"/>
<path d="M339.36 134.79L341.85 134.72" stroke="#ff4700"/>
<path d="M341.37 134.73L343.85 134.67" stroke="#ff6900"/>
<path d="M343.37 134.68L345.85 134.63" stroke="#ff7200"/>
<path d="M345.37 134.64L347.86 134.59" stroke="#ffaa00"/>
<path d="M347.37 134.60L349.86 134.56" stroke="#ffbd00"/>
<path d="M349.38 134.57L351.86 134.54" stroke="#ffee00"/>
<path d="M351.38 134.54L353.86 134.52" stroke="#fffc00"/>
<path d="M353.38 134.52L355.87 134.51" stroke="#ff8400"/>
<path d="M355.39 134.51L357.87 134.50" stroke="#ffef00"/>
<path d="M357.39 134.50L359.87 134.50" stroke="#ffeb00"/>
<path d="M359.39 134.50L361.88 134.51" stroke="#dbff24"/>
<path d="M361.39 134.51L363.88 134.52" stroke="#f7ff08"/>
<path d="M363.40 134.52L365.88 134.54" stroke="#f9ff06"/>
<path d="M365.40 134.54L367.88 134.57" stroke="#fdff02"/>
<path d="M367.40 134.56L369.89 134.60" stroke="#f0ff0f"/>
<path d="M369.41 134.59L371.89 134.64" stroke="#eaff15"/>
<path d="M371.41 134.63L373.89 134.68" stroke="#bbff44"/>
<path d="M373.41 134.67L375.90 134.73" stroke="#ffff00"/>
<path d="M375.42 134.72L377.90 134.79" stroke="#faff05"/>
<path d="M377.42 134.77L379.90 134.85" stroke="#fff200"/>
<path d="M379.42 134.83L381.91 134.92" stroke="#d2ff2d"/>
<path d="M381.42 134.90L383.91 134.99" stroke="#c2ff3d"/>
<path d="M383.43 134.97L385.91 135.07" stroke="#74ff8b"/>
<path d="M385.43 135.05L387.91 135.16" stroke="#4fffb0"/>
<path d="M387.43 135.14L389.92 135.26" stroke="#56ffa9"/>
<path d="M389.44 135.23L391.92 135.35" stroke="#22ffdd"/>
<path d="M391.44 135.33L393.92 135.46" stroke="#0efff1"/>
<path d="M393.44 135.43L395.93 135.57" stroke="#000fff"/>
<path d="M395.44 135.55L397.93 135.69" stroke="#21ffde"/>
<path d="M397.45 135.66L399.93 135.82" stroke="#0bfff4"/>
<path d="M399.45 135.79L401.93 135.95" stroke="#12ffed"/>
<path d="M401.45 135.92L403.94 136.08" stroke="#6eff91"/>
<path d="M403.46 136.05L405.94 136.23" stroke="#1affe5"/>
<path d="M405.46 136.19L407.94 136.38" stroke="#2cffd3"/>
<path d="M407.46 136.34L409.95 136.53" stroke="#00d1ff"/>
<path d="M409.47 136.49L411.95 136.69" stroke="#0084ff"/>
<path d="M411.47 136.65L413.95 136.86" stroke="#0019ff"/>
<path d="M413.47 136.82L415.96 137.04" stroke="#00fbff"/>
<path d="M415.47 136.99L417.96 137.22" stroke="#00eeff"/>
<path d="M417.48 137.17L419.96 137.40" stroke="#0085ff"/>
<path d="M419.48 137.36L421.96 137.60" stroke="#00fcff"/>
<path d="M421.48 137.55L423.97 137.80" stroke="#00f5ff"/>
<path d="M423.49 137.75L425.97 138.00" stroke="#0019ff"/>
<path d="M425.49 137.95L427.97 138.21" stroke="#50ffaf"/>
<path d="M427.49 138.16L429.98 138.43" stroke="#007bff"/>
<path d="M429.49 138.38L431.98 138.65" stroke="#2dffd2"/>
<path d="M431.50 138.60L433.98 138.88" stroke="#00afff"/>
<path d="M433.50 138.83L435.98 139.12" stroke="#4dffb2"/>
<path d="M435.50 139.06L437.99 139.36" stroke="#48ffb7"/>
<path d="M437.51 139.30L439.99 139.61" stroke="#13ffec"/>
<path d="M439.51 139.55L441.99 139.87" stroke="#2fffd0"/>
<path d="M441.51 139.80L444.00 140.13" stroke="#41ffbe"/>
<path d="M443.52 140.06L446.00 140.39" stroke="#48ffb7"/>
<path d="M445.52 140.33L448.00 140.67" stroke="#51ffae"/>
<path d="M447.52 140.60L450.01 140.95" stroke="#4bffb4"/>
<path d="M449.52 140.88L452.01 141.23" stroke="#1bffe4"/>
<path d="M451.53 141.16L454.01 141.53" stroke="#26ffd9"/>
<path d="M453.53 141.45L456.01 141.82" stroke="#19ffe6"/>
<path d="M455.53 141.75L458.02 142.13" stroke="#66ff99"/>
<path d="M457.54 142.05L460.02 142.44" stroke="#3dffc2"/>
<path d="M459.54 142.36L462.02 142.76" stroke="#46ffb9"/>
<path d="M461.54 142.68L464.03 143.08" stroke="#52ffad"/>
<path d="M463.54 143.00L466.03 143.41" stroke="#0019ff"/>
<path d="M465.55 143.33L468.03 143.74" stroke="#21ffde"/>
<path d="M467.55 143.66L470.03 144.08" stroke="#46ffb9"/>
<path d="M469.55 144.00L472.04 144.43" stroke="#53ffac"/>
<path d="M471.56 144.35L473.80 144.74" stroke="#7dff82" stroke-linecap="round"/>
<path d="M250.00 347.70L252.24 345.81" stroke="#66ff99" stroke-linecap="round"/>
<path d="M251.76 346.22L254.24 344.14" stroke="#43ffbc"/>
<path d="M253.76 344.54L256.23 342.47" stroke="#49ffb6"/>
<path d="M255.75 342.87L258.23 340.81" stroke="#42ffbd"/>
<path d="M257.75 341.20L260.23 339.15" stroke="#05fffa"/>
<path d="M259.75 339.55L262.23 337.50" stroke="#85ff7a"/>
<path d="M261.75 337.89L264.23 335.86" stroke="#b7ff48"/>
<path d="M263.75 336.25L266.23 334.22" stroke="#b7ff48"/>
<path d="M265.75 334.61L268.22 332.59" stroke="#1affe5"/>
<path d="M267.74 332.98L270.22 330.97" stroke="#c9ff36"/>
<path d="M269.74 331.36L272.22 329.35" stroke="#dfff20"/>
<path d="M271.74 329.74L274.22 327.74" stroke="#ffd900"/>
<path d="M273.74 328.13L276.22 326.14" stroke="#ffd900"/>
<path d="M275.74 326.52L278.21 324.55" stroke="#ffc400"/>
<path d="M277.74 324.93L280.21 322.96" stroke="#ffee00"/>
<path d="M279.73 323.34L282.21 321.37" stroke="#ffe600"/>
<path d="M281.73 321.75L284.21 319.80" stroke="#ffac00"/>
<path d="M283.73 320.18L286.21 318.23" stroke="#ffb100"/>
<path d="M285.73 318.61L288.21 316.67" stroke="#ff7100"/>
<path d="M287.73 317.04L290.20 315.11" stroke="#ff9300"/>
<path d="M289.72 315.48L292.20 313.56" stroke="#ff5e00"/>
<path d="M291.72 313.93L294.20 312.02" stroke="#ff3300"/>
<path d="M293.72 312.39L296.20 310.49" stroke="#ff0800"/>
<path d="M295.72 310.85L298.20 308.96" stroke="#ff3800"/>
<path d="M297.72 309.32L300.20 307.44" stroke="#ff8900"/>
<path d="M299.72 307.80L302.19 305.92" stroke="#ff9200"/>
<path d="M301.71 306.28L304.19 304.41" stroke="#ff7000"/>
<path d="M303.71 304.77L306.19 302.91" stroke="#ff8400"/>
<path d="M305.71 303.27L308.19 301.42" stroke="#ff8300"/>
<path d="M307.71 301.77L310.19 299.93" stroke="#ff4400"/>
<path d="M309.71 300.28L312.18 298.45" stroke="#ff1b00"/>
<path d="M311.70 298.80L314.18 296.97" stroke="#fb0000"/>
<path d="M313.70 297.32L316.18 295.50" stroke="#ff5400"/>
<path d="M315.70 295.86L318.18 294.04" stroke="#ff5600"/>
<path d="M317.70 294.39L320.18 292.59" stroke="#ff6100"/>
<path d="M319.70 292.94L322.18 291.14" stroke="#ff9f00"/>
<path d="M321.70 291.49L324.17 289.70" stroke="#ffb600"/>
<path d="M323.69 290.04L326.17 288.26" stroke="#ffcd00"/>
<path d="M325.69 288.61L328.17 286.84" stroke="#ff8100"/>
<path d="M327.69 287.18L330.17 285.42" stroke="#ff6400"/>
<path d="M329.69 285.76L332.17 284.00" stroke="#ff7600"/>
<path d="M331.69 284.34L334.16 282.59" stroke="#ff5d00"/>
<path d="M333.69 282.93L336.16 281.19" stroke="#ffd800"/>
<path d="M335.68 281.53L338.16 279.80" stroke="#e2ff1d"/>
<path d="M337.68 280.13L340.16 278.41" stroke="#f1ff0e"/>
<path d="M339.68 278.74L342.16 277.03" stroke="#c6ff39"/>
<path d="M341.68 277.36L344.16 275.66" stroke="#b1ff4e"/>
<path d="M343.68 275.99L346.15 274.29" stroke="#c8ff37"/>
<path d="M345.67 274.62L348.15 272.93" stroke="#83ff7c"/>
<path d="M347.67 273.26L350.15 271.58" stroke="#97ff68"/>
<path d="M349.67 271.90L352.15 270.23" stroke="#aeff51"/>
<path d="M351.67 270.55L354.15 268.89" stroke="#aaff55"/>
<path d="M353.67 269.21L356.15 267.56" stroke="#b0ff4f"/>
<path d="M355.67 267.87L358.14 266.23" stroke="#a2ff5d"/>
<path d="M357.66 266.55L360.14 264.91" stroke="#81ff7e"/>
<path d="M359.66 265.22L362.14 263.59" stroke="#30ffcf"/>
<path d="M361.66 263.91L364.14 262.29" stroke="#62ff9d"/>
<path d="M363.66 262.60L366.14 260.99" stroke="#0dfff2"/>
<path d="M365.66 261.30L368.13 259.70" stroke="#00fbff"/>
<path d="M367.65 260.00L370.13 258.41" stroke="#00c9ff"/>
<path d="M369.65 258.72L372.13 257.13" stroke="#16ffe9"/>
<path d="M371.65 257.44L374.13 255.86" stroke="#1dffe2"/>
<path d="M373.65 256.16L376.13 254.59" stroke="#00f5ff"/>
<path d="M375.65 254.89L378.13 253.33" stroke="#28ffd7"/>
<path d="M377.65 253.63L380.12 252.08" stroke="#00e9ff"/>
<path d="M379.64 252.38L382.12 250.83" stroke="#00feff"/>
<path d="M381.64 251.13L384.12 249.59" stroke="#00feff"/>
<path d="M383.64 249.89L386.12 248.36" stroke="#00dfff"/>
<path d="M385.64 248.65L388.12 247.13" stroke="#0000d1"/>
<path d="M387.64 247.43L390.11 245.91" stroke="#0000e6"/>
<path d="M389.64 246.21L392.11 244.70" stroke="#004dff"/>
<path d="M391.63 244.99L394.11 243.50" stroke="#0000d1"/>
<path d="M393.63 243.78L396.11 242.30" stroke="#0000fa"/>
<path d="M395.63 242.58L398.11 241.10" stroke="#28ffd7"/>
<path d="M397.63 241.39L400.11 239.92" stroke="#2cffd3"/>
<path d="M399.63 240.20L402.10 238.74" stroke="#9fff60"/>
<path d="M401.62 239.02L404.10 237.57" stroke="#c3ff3c"/>
<path d="M403.62 237.85L406.10 236.40" stroke="#9eff61"/>
<path d="M405.62 236.68L408.10 235.24" stroke="#25ffda"/>
<path d="M407.62 235.52L410.10 234.09" stroke="#51ffae"/>
<path d="M409.62 234.37L412.10 232.95" stroke="#0bfff4"/>
<path d="M411.62 233.22L414.09 231.81" stroke="#34ffcb"/>
<path d="M413.61 232.08L416.09 230.68" stroke="#58ffa7"/>
<path d="M415.61 230.95L418.09 229.55" stroke="#83ff7c"/>
<path d="M417.61 229.82L420.09 228.43" stroke="#b6ff49"/>
<path d="M419.61 228.70L422.09 227.32" stroke="#aeff51"/>
<path d="M421.61 227.59L424.08 226.22" stroke="#27ffd8"/>
<path d="M423.60 226.48L426.08 225.12" stroke="#00edff"/>
<path d="M425.60 225.38L428.08 224.03" stroke="#00baff"/>
<path d="M427.60 224.29L430.08 222.94" stroke="#00ebff"/>
<path d="M429.60 223.20L432.08 221.86" stroke="#00f5ff"/>
<path d="M431.60 222.12L434.08 220.79" stroke="#00f7ff"/>
<path d="M433.60 221.05L436.07 219.73" stroke="#00d5ff"/>
<path d="M435.59 219.98L438.07 218.67" stroke="#00b4ff"/>
<path d="M437.59 218.92L440.07 217.62" stroke="#0085ff"/>
<path d="M439.59 217.87L442.07 216.57" stroke="#0091ff"/>
<path d="M441.59 216.82L444.07 215.54" stroke="#00a5ff"/>
<path d="M443.59 215.78L446.06 214.51" stroke="#007eff"/>
<path d="M445.59 214.75L448.06 213.48" stroke="#008cff"/>
<path d="M447.58 213.73L450.06 212.46" stroke="#00dfff"/>
<path d="M449.58 212.71L452.06 211.45" stroke="#00fcff"/>
<path d="M451.58 211.69L454.06 210.45" stroke="#00d9ff"/>
<path d="M453.58 210.69L456.06 209.45" stroke="#00f8ff"/>
<path d="M455.58 209.69L458.05 208.46" stroke="#09fff6"/>
<path d="M457.57 208.70L460.05 207.48" stroke="#1affe5"/>
<path d="M459.57 207.71L462.05 206.50" stroke="#0019ff"/>
<path d="M461.57 206.73L464.05 205.53" stroke="#0079ff"/>
<path d="M463.57 205.76L466.05 204.57" stroke="#00e7ff"/>
<path d="M465.57 204.80L468.05 203.61" stroke="#0bfff4"/>
<path d="M467.57 203.84L470.04 202.66" stroke="#03fffc"/>
<path d="M469.56 202.89L472.04 201.71" stroke="#00edff"/>
<path d="M471.56 201.94L473.80 200.89" stroke="#00f5ff" stroke-linecap="round"/>
</g>
<rect x="65.0" y="123.35" width="409.0" height="231.45000000000002" fill="none" stroke="#000" stroke-width="2.0"/>
<path d="M65.05 123.35v5.6M65.05 354.8v-5.6M76.40 123.35v2.7M76.40 354.8v-2.7M87.75 123.35v2.7M87.75 354.8v-2.7M99.10 123.35v2.7M99.10 354.8v-2.7M110.45 123.35v2.7M110.45 354.8v-2.7M121.80 123.35v2.7M121.80 354.8v-2.7M133.15 123.35v2.7M133.15 354.8v-2.7M144.50 123.35v2.7M144.50 354.8v-2.7M155.85 123.35v2.7M155.85 354.8v-2.7M167.20 123.35v2.7M167.20 354.8v-2.7M178.55 123.35v5.6M178.55 354.8v-5.6M189.90 123.35v2.7M189.90 354.8v-2.7M201.25 123.35v2.7M201.25 354.8v-2.7M212.60 123.35v2.7M212.60 354.8v-2.7M223.95 123.35v2.7M223.95 354.8v-2.7M235.30 123.35v2.7M235.30 354.8v-2.7M246.65 123.35v2.7M246.65 354.8v-2.7M258.00 123.35v2.7M258.00 354.8v-2.7M269.35 123.35v2.7M269.35 354.8v-2.7M280.70 123.35v2.7M280.70 354.8v-2.7M292.05 123.35v5.6M292.05 354.8v-5.6M303.40 123.35v2.7M303.40 354.8v-2.7M314.75 123.35v2.7M314.75 354.8v-2.7M326.10 123.35v2.7M326.10 354.8v-2.7M337.45 123.35v2.7M337.45 354.8v-2.7M348.80 123.35v2.7M348.80 354.8v-2.7M360.15 123.35v2.7M360.15 354.8v-2.7M371.50 123.35v2.7M371.50 354.8v-2.7M382.85 123.35v2.7M382.85 354.8v-2.7M394.20 123.35v2.7M394.20 354.8v-2.7M405.55 123.35v5.6M405.55 354.8v-5.6M416.90 123.35v2.7M416.90 354.8v-2.7M428.25 123.35v2.7M428.25 354.8v-2.7M439.60 123.35v2.7M439.60 354.8v-2.7M450.95 123.35v2.7M450.95 354.8v-2.7M462.30 123.35v2.7M462.30 354.8v-2.7M473.65 123.35v2.7M473.65 354.8v-2.7M65.0 354.80h8.8M474.0 354.80h-8.8M65.0 346.84h4.6M474.0 346.84h-4.6M65.0 338.88h4.6M474.0 338.88h-4.6M65.0 330.92h4.6M474.0 330.92h-4.6M65.0 322.96h8.8M474.0 322.96h-8.8M65.0 315.00h4.6M474.0 315.00h-4.6M65.0 307.04h4.6M474.0 307.04h-4.6M65.0 299.08h4.6M474.0 299.08h-4.6M65.0 291.12h8.8M474.0 291.12h-8.8M65.0 283.16h4.6M474.0 283.16h-4.6M65.0 275.20h4.6M474.0 275.20h-4.6M65.0 267.24h4.6M474.0 267.24h-4.6M65.0 259.28h8.8M474.0 259.28h-8.8M65.0 251.32h4.6M474.0 251.32h-4.6M65.0 243.36h4.6M474.0 243.36h-4.6M65.0 235.40h4.6M474.0 235.40h-4.6M65.0 227.44h8.8M474.0 227.44h-8.8M65.0 219.48h4.6M474.0 219.48h-4.6M65.0 211.52h4.6M474.0 211.52h-4.6M65.0 203.56h4.6M474.0 203.56h-4.6M65.0 195.60h8.8M474.0 195.60h-8.8M65.0 187.64h4.6M474.0 187.64h-4.6M65.0 179.68h4.6M474.0 179.68h-4.6M65.0 171.72h4.6M474.0 171.72h-4.6M65.0 163.76h8.8M474.0 163.76h-8.8M65.0 155.80h4.6M474.0 155.80h-4.6M65.0 147.84h4.6M474.0 147.84h-4.6M65.0 139.88h4.6M474.0 139.88h-4.6M65.0 131.92h8.8M474.0 131.92h-8.8" stroke="#000" stroke-width="1.6" fill="none"/>
<text x="61.5" y="356.2" font-size="13" text-anchor="end" >0.80</text>
<text x="61.5" y="327.6" font-size="13" text-anchor="end" >0.82</text>
<text x="61.5" y="295.7" font-size="13" text-anchor="end" >0.84</text>
<text x="61.5" y="263.9" font-size="13" text-anchor="end" >0.86</text>
<text x="61.5" y="232.0" font-size="13" text-anchor="end" >0.88</text>
<text x="61.5" y="200.2" font-size="13" text-anchor="end" >0.90</text>
<text x="61.5" y="168.4" font-size="13" text-anchor="end" >0.92</text>
<text x="61.5" y="135.5" font-size="13" text-anchor="end" >0.94</text>
<text x="65.0" y="371.5" font-size="12.5" text-anchor="middle" >0</text>
<text x="178.6" y="371.5" font-size="12.5" text-anchor="middle" >100</text>
<text x="292.1" y="371.5" font-size="12.5" text-anchor="middle" >200</text>
<text x="405.6" y="371.5" font-size="12.5" text-anchor="middle" >300</text>
<text x="272.8" y="386.2" font-size="13.25" text-anchor="middle" >Footpoint Longitude (deg)</text>
<text transform="translate(25.8,239.8) rotate(-90)" font-size="13" text-anchor="middle">R<tspan dy="2.5" font-size="8">Sun</tspan><tspan dy="-2.5"> (au)</tspan></text>
<text x="326.5" y="153.8" font-size="14.7" text-anchor="middle" >E7</text>
<text x="309.4" y="260.1" font-size="14.7" text-anchor="middle" >E6</text>
<text x="318.8" y="315.1" font-size="14.7" text-anchor="middle" >E8</text>
<rect x="478.9" y="122.44999999999999" width="12.6" height="233.45000000000002" fill="#000"/>
<rect x="480.5" y="124.25" width="8.6" height="229.55" fill="url(#jet)"/>
<line x1="486.8" x2="489.5" y1="164.5" y2="164.5" stroke="#000" stroke-width="1.4"/>
<text x="493.4" y="168.5" font-size="11.3">10<tspan dy="-4.6" font-size="7.5">-3</tspan></text>
<line x1="486.8" x2="489.5" y1="234.4" y2="234.4" stroke="#000" stroke-width="1.4"/>
<text x="493.4" y="238.4" font-size="11.3">10<tspan dy="-4.6" font-size="7.5">-4</tspan></text>
<line x1="486.8" x2="489.5" y1="304.3" y2="304.3" stroke="#000" stroke-width="1.4"/>
<text x="493.4" y="308.3" font-size="11.3">10<tspan dy="-4.6" font-size="7.5">-5</tspan></text>
<text transform="translate(535,277.8) rotate(-90)" font-size="12.5" textLength="48.5" lengthAdjust="spacingAndGlyphs">1-7 MeV</text><text transform="translate(535,225.2) rotate(-90)" font-size="12.5">H<tspan dy="-4.5" font-size="8">+</tspan></text><text transform="translate(535,208.2) rotate(-90)" font-size="12.3">Flux</text>
<text transform="translate(556.5,282.9) rotate(-90)" font-size="11.8" textLength="102.3" lengthAdjust="spacing">(cm<tspan dy="-4.6" font-size="7.8">-2</tspan><tspan dy="4.6">sr</tspan><tspan dy="-4.6" font-size="7.8">-1</tspan><tspan dy="4.6"> s</tspan><tspan dy="-4.6" font-size="7.8">-1</tspan><tspan dy="4.6"> MeV</tspan><tspan dy="-4.6" font-size="7.8">-1</tspan><tspan dy="4.6">)</tspan></text>
</svg></body></html>
